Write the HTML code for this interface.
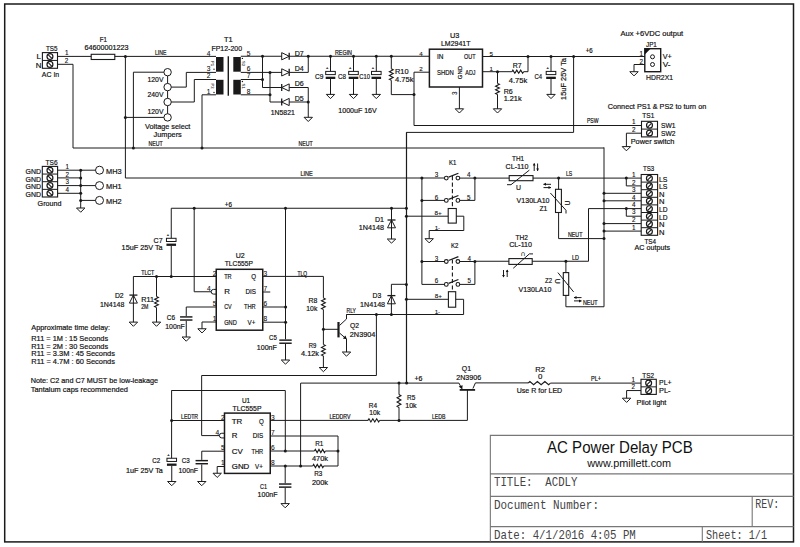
<!DOCTYPE html>
<html><head><meta charset="utf-8"><style>
html,body{margin:0;padding:0;background:#fff;width:800px;height:547px;overflow:hidden}
svg{display:block}
</style></head><body>
<svg width="800" height="547" viewBox="0 0 800 547">
<rect width="800" height="547" fill="#fff"/>
<rect x="4.7" y="4.0" width="788.8" height="537.9" fill="none" stroke="#1a1a1a" stroke-width="1.5"/>
<rect x="42.4" y="52.6" width="15.1" height="15.7" fill="none" stroke="#1a1a1a" stroke-width="1.1"/>
<path d="M42.40,60.45 L57.50,60.45" fill="none" stroke="#1a1a1a" stroke-width="1.0"/>
<circle cx="49.949999999999996" cy="56.525" r="2.95" fill="none" stroke="#1a1a1a" stroke-width="1.2"/>
<path d="M48.05,54.62 L51.85,58.42" fill="none" stroke="#1a1a1a" stroke-width="1.1"/>
<circle cx="49.949999999999996" cy="64.375" r="2.95" fill="none" stroke="#1a1a1a" stroke-width="1.2"/>
<path d="M48.05,62.48 L51.85,66.28" fill="none" stroke="#1a1a1a" stroke-width="1.1"/>
<text x="46" y="51.3" font-size="7.9" text-anchor="start" fill="#111" stroke="#111" stroke-width="0.2" font-family='"Liberation Sans", sans-serif' textLength="11.50" lengthAdjust="spacingAndGlyphs" xml:space="preserve">TS5</text>
<text x="36.4" y="58.6" font-size="7.9" text-anchor="start" fill="#111" stroke="#111" stroke-width="0.2" font-family='"Liberation Sans", sans-serif' xml:space="preserve">L</text>
<text x="35.8" y="68" font-size="7.9" text-anchor="start" fill="#111" stroke="#111" stroke-width="0.2" font-family='"Liberation Sans", sans-serif' xml:space="preserve">N</text>
<text x="65.0" y="55.4" font-size="6.3" text-anchor="start" fill="#111" stroke="#111" stroke-width="0.12" font-family='"Liberation Sans", sans-serif' xml:space="preserve">1</text>
<text x="64.8" y="63.3" font-size="6.3" text-anchor="start" fill="#111" stroke="#111" stroke-width="0.12" font-family='"Liberation Sans", sans-serif' xml:space="preserve">2</text>
<text x="41.8" y="77.4" font-size="7.9" text-anchor="start" fill="#111" stroke="#111" stroke-width="0.2" font-family='"Liberation Sans", sans-serif' textLength="17.40" lengthAdjust="spacingAndGlyphs" xml:space="preserve">AC In</text>
<path d="M57.50,56.40 L91.20,56.40" fill="none" stroke="#1a1a1a" stroke-width="1.0"/>
<rect x="91.2" y="54.3" width="23.6" height="5.2" fill="none" stroke="#1a1a1a" stroke-width="1.1"/>
<path d="M114.80,56.40 L216.00,56.40" fill="none" stroke="#1a1a1a" stroke-width="1.0"/>
<circle cx="125.4" cy="56.4" r="1.5" fill="#1a1a1a"/>
<text x="99.8" y="41.5" font-size="7.9" text-anchor="start" fill="#111" stroke="#111" stroke-width="0.2" font-family='"Liberation Sans", sans-serif' textLength="7.20" lengthAdjust="spacingAndGlyphs" xml:space="preserve">F1</text>
<text x="84.4" y="50.2" font-size="7.9" text-anchor="start" fill="#111" stroke="#111" stroke-width="0.2" font-family='"Liberation Sans", sans-serif' textLength="44.20" lengthAdjust="spacingAndGlyphs" xml:space="preserve">64600001223</text>
<text x="155" y="55" font-size="6.4" text-anchor="start" fill="#111" stroke="#111" stroke-width="0.2" font-family='"Liberation Sans", sans-serif' textLength="11.50" lengthAdjust="spacingAndGlyphs" xml:space="preserve">LINE</text>
<path d="M57.50,64.30 L73.00,64.30 L73.00,148.00 L604.00,148.00" fill="none" stroke="#1a1a1a" stroke-width="1.0"/>
<path d="M125.40,56.40 L125.40,178.00 L444.45,178.00" fill="none" stroke="#1a1a1a" stroke-width="1.0"/>
<circle cx="167.6" cy="72.2" r="3.7" fill="none" stroke="#1a1a1a" stroke-width="1.0"/>
<circle cx="167.6" cy="87.1" r="3.7" fill="none" stroke="#1a1a1a" stroke-width="1.0"/>
<circle cx="167.6" cy="102" r="3.7" fill="none" stroke="#1a1a1a" stroke-width="1.0"/>
<circle cx="167.6" cy="117.4" r="3.7" fill="none" stroke="#1a1a1a" stroke-width="1.0"/>
<path d="M167.60,75.90 L167.60,83.40" fill="none" stroke="#1a1a1a" stroke-width="1.0"/>
<path d="M167.60,90.80 L167.60,98.30" fill="none" stroke="#1a1a1a" stroke-width="1.0"/>
<path d="M167.60,105.70 L167.60,113.70" fill="none" stroke="#1a1a1a" stroke-width="1.0"/>
<path d="M163.90,72.20 L133.40,72.20 L133.40,148.00" fill="none" stroke="#1a1a1a" stroke-width="1.0"/>
<circle cx="133.4" cy="148.0" r="1.5" fill="#1a1a1a"/>
<path d="M171.30,87.10 L186.30,87.10 L186.30,72.40 L216.00,72.40" fill="none" stroke="#1a1a1a" stroke-width="1.0"/>
<path d="M171.30,102.00 L194.30,102.00 L194.30,79.50 L216.00,79.50" fill="none" stroke="#1a1a1a" stroke-width="1.0"/>
<path d="M163.90,117.40 L125.40,117.40" fill="none" stroke="#1a1a1a" stroke-width="1.0"/>
<circle cx="125.4" cy="117.4" r="1.5" fill="#1a1a1a"/>
<path d="M216.00,94.80 L202.00,94.80 L202.00,148.00" fill="none" stroke="#1a1a1a" stroke-width="1.0"/>
<circle cx="202" cy="148.0" r="1.5" fill="#1a1a1a"/>
<text x="147.5" y="82" font-size="7.9" text-anchor="start" fill="#111" stroke="#111" stroke-width="0.2" font-family='"Liberation Sans", sans-serif' textLength="16.00" lengthAdjust="spacingAndGlyphs" xml:space="preserve">120V</text>
<text x="147.5" y="97.1" font-size="7.9" text-anchor="start" fill="#111" stroke="#111" stroke-width="0.2" font-family='"Liberation Sans", sans-serif' textLength="16.00" lengthAdjust="spacingAndGlyphs" xml:space="preserve">240V</text>
<text x="147.5" y="114.4" font-size="7.9" text-anchor="start" fill="#111" stroke="#111" stroke-width="0.2" font-family='"Liberation Sans", sans-serif' textLength="16.00" lengthAdjust="spacingAndGlyphs" xml:space="preserve">120V</text>
<text x="145" y="129" font-size="7.9" text-anchor="start" fill="#111" stroke="#111" stroke-width="0.2" font-family='"Liberation Sans", sans-serif' textLength="45.40" lengthAdjust="spacingAndGlyphs" xml:space="preserve">Voltage select</text>
<text x="153.6" y="137" font-size="7.9" text-anchor="start" fill="#111" stroke="#111" stroke-width="0.2" font-family='"Liberation Sans", sans-serif' textLength="28.20" lengthAdjust="spacingAndGlyphs" xml:space="preserve">Jumpers</text>
<text x="224" y="42" font-size="7.9" text-anchor="start" fill="#111" stroke="#111" stroke-width="0.2" font-family='"Liberation Sans", sans-serif' textLength="8.60" lengthAdjust="spacingAndGlyphs" xml:space="preserve">T1</text>
<text x="211.5" y="51" font-size="7.9" text-anchor="start" fill="#111" stroke="#111" stroke-width="0.2" font-family='"Liberation Sans", sans-serif' textLength="30.50" lengthAdjust="spacingAndGlyphs" xml:space="preserve">FP12-200</text>
<rect x="216" y="57" width="7.5" height="14.7" fill="#1a1a1a"/>
<rect x="216" y="79.8" width="7.5" height="14.7" fill="#1a1a1a"/>
<rect x="233.3" y="57" width="7.5" height="14.7" fill="#1a1a1a"/>
<rect x="233.3" y="79.8" width="7.5" height="14.7" fill="#1a1a1a"/>
<path d="M228.30,56.20 L228.30,95.70" fill="none" stroke="#1a1a1a" stroke-width="1.4"/>
<text x="206.8" y="55.8" font-size="6.6" text-anchor="start" fill="#111" stroke="#111" stroke-width="0.1" font-family='"Liberation Sans", sans-serif' xml:space="preserve">4</text>
<text x="206.8" y="70.5" font-size="6.6" text-anchor="start" fill="#111" stroke="#111" stroke-width="0.1" font-family='"Liberation Sans", sans-serif' xml:space="preserve">3</text>
<text x="206.8" y="78.3" font-size="6.6" text-anchor="start" fill="#111" stroke="#111" stroke-width="0.1" font-family='"Liberation Sans", sans-serif' xml:space="preserve">2</text>
<text x="206.8" y="94.2" font-size="6.6" text-anchor="start" fill="#111" stroke="#111" stroke-width="0.1" font-family='"Liberation Sans", sans-serif' xml:space="preserve">1</text>
<text x="246.75" y="55.8" font-size="6.6" text-anchor="start" fill="#111" stroke="#111" stroke-width="0.1" font-family='"Liberation Sans", sans-serif' xml:space="preserve">5</text>
<text x="246.75" y="70.5" font-size="6.6" text-anchor="start" fill="#111" stroke="#111" stroke-width="0.1" font-family='"Liberation Sans", sans-serif' xml:space="preserve">6</text>
<text x="246.75" y="78.3" font-size="6.6" text-anchor="start" fill="#111" stroke="#111" stroke-width="0.1" font-family='"Liberation Sans", sans-serif' xml:space="preserve">7</text>
<text x="246.75" y="94.2" font-size="6.6" text-anchor="start" fill="#111" stroke="#111" stroke-width="0.1" font-family='"Liberation Sans", sans-serif' xml:space="preserve">8</text>
<circle cx="214" cy="69.2" r="0.7" fill="#1a1a1a"/>
<circle cx="214" cy="92.5" r="0.7" fill="#1a1a1a"/>
<circle cx="242.4" cy="58.4" r="0.7" fill="#1a1a1a"/>
<circle cx="242.4" cy="81.5" r="0.7" fill="#1a1a1a"/>
<text x="211.0" y="63.5" font-size="4.2" text-anchor="middle" fill="#111" stroke="#111" stroke-width="0.05" font-family='"Liberation Sans", sans-serif' transform="rotate(90 211.0 63.5)" xml:space="preserve">P1</text>
<text x="211.0" y="86" font-size="4.2" text-anchor="middle" fill="#111" stroke="#111" stroke-width="0.05" font-family='"Liberation Sans", sans-serif' transform="rotate(90 211.0 86)" xml:space="preserve">P2</text>
<text x="242.3" y="63.5" font-size="4.2" text-anchor="middle" fill="#111" stroke="#111" stroke-width="0.05" font-family='"Liberation Sans", sans-serif' transform="rotate(90 242.3 63.5)" xml:space="preserve">S2</text>
<text x="242.3" y="86" font-size="4.2" text-anchor="middle" fill="#111" stroke="#111" stroke-width="0.05" font-family='"Liberation Sans", sans-serif' transform="rotate(90 242.3 86)" xml:space="preserve">S1</text>
<path d="M240.80,56.25 L281.70,56.25" fill="none" stroke="#1a1a1a" stroke-width="1.0"/>
<path d="M289.20,56.25 L429.40,56.25" fill="none" stroke="#1a1a1a" stroke-width="1.0"/>
<path d="M281.7,52.65 L289.2,56.25 L281.7,59.85 Z" fill="none" stroke="#1a1a1a" stroke-width="1.0"/>
<path d="M289.20,52.65 L289.20,59.85" fill="none" stroke="#1a1a1a" stroke-width="1.3"/>
<path d="M240.80,72.40 L281.70,72.40" fill="none" stroke="#1a1a1a" stroke-width="1.0"/>
<path d="M289.20,72.40 L308.25,72.40 L308.25,56.25" fill="none" stroke="#1a1a1a" stroke-width="1.0"/>
<path d="M281.7,68.80000000000001 L289.2,72.4 L281.7,76.0 Z" fill="none" stroke="#1a1a1a" stroke-width="1.0"/>
<path d="M289.20,68.80 L289.20,76.00" fill="none" stroke="#1a1a1a" stroke-width="1.3"/>
<path d="M240.80,79.50 L262.50,79.50" fill="none" stroke="#1a1a1a" stroke-width="1.0"/>
<path d="M262.50,56.25 L262.50,87.50 L281.70,87.50" fill="none" stroke="#1a1a1a" stroke-width="1.0"/>
<path d="M289.2,83.9 L281.7,87.5 L289.2,91.1 Z" fill="none" stroke="#1a1a1a" stroke-width="1.0"/>
<path d="M281.70,83.90 L281.70,91.10" fill="none" stroke="#1a1a1a" stroke-width="1.3"/>
<path d="M289.20,87.50 L308.25,87.50 L308.25,117.30" fill="none" stroke="#1a1a1a" stroke-width="1.0"/>
<path d="M240.80,94.80 L270.00,94.80" fill="none" stroke="#1a1a1a" stroke-width="1.0"/>
<path d="M270.00,72.40 L270.00,102.00 L281.70,102.00" fill="none" stroke="#1a1a1a" stroke-width="1.0"/>
<path d="M289.2,98.4 L281.7,102 L289.2,105.6 Z" fill="none" stroke="#1a1a1a" stroke-width="1.0"/>
<path d="M281.70,98.40 L281.70,105.60" fill="none" stroke="#1a1a1a" stroke-width="1.3"/>
<path d="M289.20,102.00 L308.25,102.00" fill="none" stroke="#1a1a1a" stroke-width="1.0"/>
<path d="M304.05,117.30 L312.45,117.30 L308.25,121.50 Z" fill="none" stroke="#1a1a1a" stroke-width="1.0"/>
<circle cx="262.5" cy="56.25" r="1.5" fill="#1a1a1a"/>
<circle cx="262.5" cy="79.5" r="1.5" fill="#1a1a1a"/>
<circle cx="270" cy="72.4" r="1.5" fill="#1a1a1a"/>
<circle cx="270" cy="94.8" r="1.5" fill="#1a1a1a"/>
<circle cx="308.25" cy="56.25" r="1.5" fill="#1a1a1a"/>
<circle cx="308.25" cy="102" r="1.5" fill="#1a1a1a"/>
<text x="294.75" y="56.25" font-size="7.9" text-anchor="start" fill="#111" stroke="#111" stroke-width="0.2" font-family='"Liberation Sans", sans-serif' textLength="9.00" lengthAdjust="spacingAndGlyphs" xml:space="preserve">D7</text>
<text x="294.75" y="71.25" font-size="7.9" text-anchor="start" fill="#111" stroke="#111" stroke-width="0.2" font-family='"Liberation Sans", sans-serif' textLength="9.00" lengthAdjust="spacingAndGlyphs" xml:space="preserve">D4</text>
<text x="294.75" y="86.25" font-size="7.9" text-anchor="start" fill="#111" stroke="#111" stroke-width="0.2" font-family='"Liberation Sans", sans-serif' textLength="9.00" lengthAdjust="spacingAndGlyphs" xml:space="preserve">D6</text>
<text x="294.75" y="101.25" font-size="7.9" text-anchor="start" fill="#111" stroke="#111" stroke-width="0.2" font-family='"Liberation Sans", sans-serif' textLength="9.00" lengthAdjust="spacingAndGlyphs" xml:space="preserve">D5</text>
<text x="270.75" y="114.75" font-size="7.9" text-anchor="start" fill="#111" stroke="#111" stroke-width="0.2" font-family='"Liberation Sans", sans-serif' textLength="24.00" lengthAdjust="spacingAndGlyphs" xml:space="preserve">1N5821</text>
<text x="335" y="55.1" font-size="6.4" text-anchor="start" fill="#111" stroke="#111" stroke-width="0.2" font-family='"Liberation Sans", sans-serif' textLength="17.00" lengthAdjust="spacingAndGlyphs" xml:space="preserve">REGIN</text>
<circle cx="330.5" cy="56.25" r="1.5" fill="#1a1a1a"/>
<path d="M330.50,56.25 L330.50,71.40" fill="none" stroke="#1a1a1a" stroke-width="1.0"/>
<rect x="325.7" y="71.4" width="9.6" height="3.2" fill="none" stroke="#1a1a1a" stroke-width="1.0"/>
<rect x="325.7" y="76.7" width="9.6" height="2.3" fill="#1a1a1a"/>
<text x="325.9" y="69.2" font-size="4" text-anchor="start" fill="#111" stroke="#111" stroke-width="0.2" font-family='"Liberation Sans", sans-serif' xml:space="preserve">+</text>
<path d="M330.50,79.00 L330.50,94.40" fill="none" stroke="#1a1a1a" stroke-width="1.0"/>
<path d="M326.30,94.40 L334.70,94.40 L330.50,98.60 Z" fill="none" stroke="#1a1a1a" stroke-width="1.0"/>
<text x="315" y="79" font-size="7.9" text-anchor="start" fill="#111" stroke="#111" stroke-width="0.2" font-family='"Liberation Sans", sans-serif' textLength="8.40" lengthAdjust="spacingAndGlyphs" xml:space="preserve">C9</text>
<circle cx="353.5" cy="56.25" r="1.5" fill="#1a1a1a"/>
<path d="M353.50,56.25 L353.50,71.40" fill="none" stroke="#1a1a1a" stroke-width="1.0"/>
<rect x="348.7" y="71.4" width="9.6" height="3.2" fill="none" stroke="#1a1a1a" stroke-width="1.0"/>
<rect x="348.7" y="76.7" width="9.6" height="2.3" fill="#1a1a1a"/>
<text x="348.9" y="69.2" font-size="4" text-anchor="start" fill="#111" stroke="#111" stroke-width="0.2" font-family='"Liberation Sans", sans-serif' xml:space="preserve">+</text>
<path d="M353.50,79.00 L353.50,94.40" fill="none" stroke="#1a1a1a" stroke-width="1.0"/>
<path d="M349.30,94.40 L357.70,94.40 L353.50,98.60 Z" fill="none" stroke="#1a1a1a" stroke-width="1.0"/>
<text x="338" y="79" font-size="7.9" text-anchor="start" fill="#111" stroke="#111" stroke-width="0.2" font-family='"Liberation Sans", sans-serif' textLength="8.00" lengthAdjust="spacingAndGlyphs" xml:space="preserve">C8</text>
<circle cx="376.3" cy="56.25" r="1.5" fill="#1a1a1a"/>
<path d="M376.30,56.25 L376.30,71.40" fill="none" stroke="#1a1a1a" stroke-width="1.0"/>
<rect x="371.5" y="71.4" width="9.6" height="3.2" fill="none" stroke="#1a1a1a" stroke-width="1.0"/>
<rect x="371.5" y="76.7" width="9.6" height="2.3" fill="#1a1a1a"/>
<text x="371.7" y="69.2" font-size="4" text-anchor="start" fill="#111" stroke="#111" stroke-width="0.2" font-family='"Liberation Sans", sans-serif' xml:space="preserve">+</text>
<path d="M376.30,79.00 L376.30,94.40" fill="none" stroke="#1a1a1a" stroke-width="1.0"/>
<path d="M372.10,94.40 L380.50,94.40 L376.30,98.60 Z" fill="none" stroke="#1a1a1a" stroke-width="1.0"/>
<text x="359.3" y="79" font-size="7.9" text-anchor="start" fill="#111" stroke="#111" stroke-width="0.2" font-family='"Liberation Sans", sans-serif' textLength="10.70" lengthAdjust="spacingAndGlyphs" xml:space="preserve">C10</text>
<text x="338.3" y="112.7" font-size="7.9" text-anchor="start" fill="#111" stroke="#111" stroke-width="0.2" font-family='"Liberation Sans", sans-serif' textLength="38.40" lengthAdjust="spacingAndGlyphs" xml:space="preserve">1000uF 16V</text>
<circle cx="391.3" cy="56.25" r="1.5" fill="#1a1a1a"/>
<path d="M391.30,56.25 L391.30,68.80" fill="none" stroke="#1a1a1a" stroke-width="1.0"/>
<path d="M391.30,68.80 L393.20,69.76 L389.40,71.67 L393.20,73.59 L389.40,75.51 L393.20,77.42 L389.40,79.34 L391.30,80.30" fill="none" stroke="#1a1a1a" stroke-width="1.1" stroke-linejoin="miter"/>
<path d="M391.30,80.30 L391.30,94.60 L414.00,94.60" fill="none" stroke="#1a1a1a" stroke-width="1.0"/>
<text x="395" y="74" font-size="7.9" text-anchor="start" fill="#111" stroke="#111" stroke-width="0.2" font-family='"Liberation Sans", sans-serif' textLength="13.60" lengthAdjust="spacingAndGlyphs" xml:space="preserve">R10</text>
<text x="395" y="81.6" font-size="7.9" text-anchor="start" fill="#111" stroke="#111" stroke-width="0.2" font-family='"Liberation Sans", sans-serif' textLength="18.50" lengthAdjust="spacingAndGlyphs" xml:space="preserve">4.75k</text>
<text x="450" y="38" font-size="7.9" text-anchor="start" fill="#111" stroke="#111" stroke-width="0.2" font-family='"Liberation Sans", sans-serif' textLength="9.40" lengthAdjust="spacingAndGlyphs" xml:space="preserve">U3</text>
<text x="441" y="46" font-size="7.9" text-anchor="start" fill="#111" stroke="#111" stroke-width="0.2" font-family='"Liberation Sans", sans-serif' textLength="29.40" lengthAdjust="spacingAndGlyphs" xml:space="preserve">LM2941T</text>
<rect x="429.4" y="49.2" width="53.1" height="37.8" fill="none" stroke="#1a1a1a" stroke-width="1.5"/>
<text x="419.2" y="55.6" font-size="6.2" text-anchor="start" fill="#111" stroke="#111" stroke-width="0.1" font-family='"Liberation Sans", sans-serif' xml:space="preserve">4</text>
<text x="419.2" y="70.9" font-size="6.2" text-anchor="start" fill="#111" stroke="#111" stroke-width="0.1" font-family='"Liberation Sans", sans-serif' xml:space="preserve">2</text>
<path d="M414.00,72.20 L429.40,72.20" fill="none" stroke="#1a1a1a" stroke-width="1.0"/>
<path d="M414.00,72.20 L414.00,125.50 L641.50,125.50" fill="none" stroke="#1a1a1a" stroke-width="1.0"/>
<circle cx="414" cy="94.6" r="1.5" fill="#1a1a1a"/>
<text x="437" y="59.4" font-size="7.9" text-anchor="start" fill="#111" stroke="#111" stroke-width="0.2" font-family='"Liberation Sans", sans-serif' textLength="6.50" lengthAdjust="spacingAndGlyphs" xml:space="preserve">IN</text>
<text x="464" y="59.4" font-size="7.9" text-anchor="start" fill="#111" stroke="#111" stroke-width="0.2" font-family='"Liberation Sans", sans-serif' textLength="11.50" lengthAdjust="spacingAndGlyphs" xml:space="preserve">OUT</text>
<text x="437" y="74.8" font-size="7.9" text-anchor="start" fill="#111" stroke="#111" stroke-width="0.2" font-family='"Liberation Sans", sans-serif' textLength="16.80" lengthAdjust="spacingAndGlyphs" xml:space="preserve">SHDN</text>
<text x="465.3" y="74.8" font-size="7.9" text-anchor="start" fill="#111" stroke="#111" stroke-width="0.2" font-family='"Liberation Sans", sans-serif' textLength="10.20" lengthAdjust="spacingAndGlyphs" xml:space="preserve">ADJ</text>
<text x="461.5" y="72.5" font-size="6" text-anchor="middle" fill="#111" stroke="#111" stroke-width="0.2" font-family='"Liberation Sans", sans-serif' transform="rotate(-90 461.5 72.5)" xml:space="preserve">GND</text>
<text x="457" y="95" font-size="6.3" text-anchor="start" fill="#111" stroke="#111" stroke-width="0.12" font-family='"Liberation Sans", sans-serif' transform="rotate(-90 457 95)" xml:space="preserve">3</text>
<path d="M459.40,87.00 L459.40,108.80" fill="none" stroke="#1a1a1a" stroke-width="1.0"/>
<path d="M455.20,108.80 L463.60,108.80 L459.40,113.00 Z" fill="none" stroke="#1a1a1a" stroke-width="1.0"/>
<path d="M482.50,56.50 L644.80,56.50" fill="none" stroke="#1a1a1a" stroke-width="1.0"/>
<text x="489.6" y="55.6" font-size="6.2" text-anchor="start" fill="#111" stroke="#111" stroke-width="0.1" font-family='"Liberation Sans", sans-serif' xml:space="preserve">5</text>
<text x="489.6" y="70.9" font-size="6.2" text-anchor="start" fill="#111" stroke="#111" stroke-width="0.1" font-family='"Liberation Sans", sans-serif' xml:space="preserve">1</text>
<path d="M482.50,71.70 L511.90,71.70" fill="none" stroke="#1a1a1a" stroke-width="1.0"/>
<path d="M511.90,71.70 L512.88,70.10 L514.83,73.30 L516.77,70.10 L518.72,73.30 L520.68,70.10 L522.62,73.30 L523.60,71.70" fill="none" stroke="#1a1a1a" stroke-width="1.1" stroke-linejoin="miter"/>
<path d="M523.60,71.70 L528.00,71.70 L528.00,56.50" fill="none" stroke="#1a1a1a" stroke-width="1.0"/>
<circle cx="528" cy="56.5" r="1.5" fill="#1a1a1a"/>
<circle cx="497.5" cy="71.7" r="1.5" fill="#1a1a1a"/>
<text x="512.7" y="68.0" font-size="7.9" text-anchor="start" fill="#111" stroke="#111" stroke-width="0.2" font-family='"Liberation Sans", sans-serif' textLength="8.90" lengthAdjust="spacingAndGlyphs" xml:space="preserve">R7</text>
<text x="508.8" y="82.5" font-size="7.9" text-anchor="start" fill="#111" stroke="#111" stroke-width="0.2" font-family='"Liberation Sans", sans-serif' textLength="18.50" lengthAdjust="spacingAndGlyphs" xml:space="preserve">4.75k</text>
<path d="M497.50,71.70 L497.50,83.40" fill="none" stroke="#1a1a1a" stroke-width="1.0"/>
<path d="M497.50,83.40 L499.40,84.32 L495.60,86.15 L499.40,87.98 L495.60,89.82 L499.40,91.65 L495.60,93.48 L497.50,94.40" fill="none" stroke="#1a1a1a" stroke-width="1.1" stroke-linejoin="miter"/>
<path d="M497.50,94.40 L497.50,108.80" fill="none" stroke="#1a1a1a" stroke-width="1.0"/>
<path d="M493.30,108.80 L501.70,108.80 L497.50,113.00 Z" fill="none" stroke="#1a1a1a" stroke-width="1.0"/>
<text x="503.7" y="93.5" font-size="7.9" text-anchor="start" fill="#111" stroke="#111" stroke-width="0.2" font-family='"Liberation Sans", sans-serif' textLength="9.00" lengthAdjust="spacingAndGlyphs" xml:space="preserve">R6</text>
<text x="503.7" y="101" font-size="7.9" text-anchor="start" fill="#111" stroke="#111" stroke-width="0.2" font-family='"Liberation Sans", sans-serif' textLength="17.90" lengthAdjust="spacingAndGlyphs" xml:space="preserve">1.21k</text>
<circle cx="551" cy="56.5" r="1.5" fill="#1a1a1a"/>
<path d="M551.00,56.50 L551.00,71.40" fill="none" stroke="#1a1a1a" stroke-width="1.0"/>
<rect x="546.2" y="71.4" width="9.6" height="3.2" fill="none" stroke="#1a1a1a" stroke-width="1.0"/>
<rect x="546.2" y="76.7" width="9.6" height="2.3" fill="#1a1a1a"/>
<text x="546.4" y="69.2" font-size="4" text-anchor="start" fill="#111" stroke="#111" stroke-width="0.2" font-family='"Liberation Sans", sans-serif' xml:space="preserve">+</text>
<path d="M551.00,79.00 L551.00,94.40" fill="none" stroke="#1a1a1a" stroke-width="1.0"/>
<path d="M546.80,94.40 L555.20,94.40 L551.00,98.60 Z" fill="none" stroke="#1a1a1a" stroke-width="1.0"/>
<text x="534.4" y="79" font-size="7.9" text-anchor="start" fill="#111" stroke="#111" stroke-width="0.2" font-family='"Liberation Sans", sans-serif' textLength="7.60" lengthAdjust="spacingAndGlyphs" xml:space="preserve">C4</text>
<text x="565.8" y="100" font-size="8" text-anchor="start" fill="#111" stroke="#111" stroke-width="0.2" font-family='"Liberation Sans", sans-serif' transform="rotate(-90 565.8 100)" textLength="42.00" lengthAdjust="spacingAndGlyphs" xml:space="preserve">15uF 25V Ta</text>
<text x="585.7" y="53" font-size="6.4" text-anchor="start" fill="#111" stroke="#111" stroke-width="0.2" font-family='"Liberation Sans", sans-serif' textLength="6.90" lengthAdjust="spacingAndGlyphs" xml:space="preserve">+6</text>
<circle cx="573.6" cy="56.5" r="1.5" fill="#1a1a1a"/>
<path d="M573.60,56.50 L573.60,132.40 L406.40,132.40 L406.40,383.00" fill="none" stroke="#1a1a1a" stroke-width="1.0"/>
<text x="587" y="123" font-size="6.4" text-anchor="start" fill="#111" stroke="#111" stroke-width="0.2" font-family='"Liberation Sans", sans-serif' textLength="11.50" lengthAdjust="spacingAndGlyphs" xml:space="preserve">PSW</text>
<text x="620.5" y="36.4" font-size="7.9" text-anchor="start" fill="#111" stroke="#111" stroke-width="0.2" font-family='"Liberation Sans", sans-serif' textLength="62.70" lengthAdjust="spacingAndGlyphs" xml:space="preserve">Aux +6VDC output</text>
<text x="646" y="47" font-size="7.9" text-anchor="start" fill="#111" stroke="#111" stroke-width="0.2" font-family='"Liberation Sans", sans-serif' textLength="10.80" lengthAdjust="spacingAndGlyphs" xml:space="preserve">JP1</text>
<rect x="644.8" y="48.7" width="15.9" height="23" fill="none" stroke="#1a1a1a" stroke-width="1.4"/>
<path d="M644.8,48.7 L650.5,48.7 L644.8,54.4 Z" fill="#111"/>
<circle cx="652.5" cy="56.8" r="2.0" fill="none" stroke="#1a1a1a" stroke-width="1.0"/>
<circle cx="652.5" cy="64.5" r="2.0" fill="none" stroke="#1a1a1a" stroke-width="1.0"/>
<text x="639.5" y="55.8" font-size="6.3" text-anchor="start" fill="#111" stroke="#111" stroke-width="0.12" font-family='"Liberation Sans", sans-serif' xml:space="preserve">1</text>
<text x="639.5" y="63.5" font-size="6.3" text-anchor="start" fill="#111" stroke="#111" stroke-width="0.12" font-family='"Liberation Sans", sans-serif' xml:space="preserve">2</text>
<path d="M644.80,64.50 L634.00,64.50 L634.00,71.70" fill="none" stroke="#1a1a1a" stroke-width="1.0"/>
<path d="M629.80,71.70 L638.20,71.70 L634.00,75.90 Z" fill="none" stroke="#1a1a1a" stroke-width="1.0"/>
<text x="662.7" y="59.4" font-size="7.9" text-anchor="start" fill="#111" stroke="#111" stroke-width="0.2" font-family='"Liberation Sans", sans-serif' textLength="9.00" lengthAdjust="spacingAndGlyphs" xml:space="preserve">V+</text>
<text x="662.7" y="67" font-size="7.9" text-anchor="start" fill="#111" stroke="#111" stroke-width="0.2" font-family='"Liberation Sans", sans-serif' textLength="7.80" lengthAdjust="spacingAndGlyphs" xml:space="preserve">V-</text>
<text x="646" y="80" font-size="7.9" text-anchor="start" fill="#111" stroke="#111" stroke-width="0.2" font-family='"Liberation Sans", sans-serif' textLength="27.00" lengthAdjust="spacingAndGlyphs" xml:space="preserve">HDR2X1</text>
<text x="607.7" y="108.8" font-size="7.9" text-anchor="start" fill="#111" stroke="#111" stroke-width="0.2" font-family='"Liberation Sans", sans-serif' textLength="98.60" lengthAdjust="spacingAndGlyphs" xml:space="preserve">Connect PS1 &amp; PS2 to turn on</text>
<text x="642.3" y="118.3" font-size="7.9" text-anchor="start" fill="#111" stroke="#111" stroke-width="0.2" font-family='"Liberation Sans", sans-serif' textLength="12.00" lengthAdjust="spacingAndGlyphs" xml:space="preserve">TS1</text>
<rect x="641.5" y="121.3" width="16" height="15.6" fill="none" stroke="#1a1a1a" stroke-width="1.1"/>
<path d="M641.50,129.10 L657.50,129.10" fill="none" stroke="#1a1a1a" stroke-width="1.0"/>
<circle cx="649.5" cy="125.2" r="2.95" fill="none" stroke="#1a1a1a" stroke-width="1.2"/>
<path d="M647.60,127.10 L651.40,123.30" fill="none" stroke="#1a1a1a" stroke-width="1.1"/>
<circle cx="649.5" cy="133.0" r="2.95" fill="none" stroke="#1a1a1a" stroke-width="1.2"/>
<path d="M647.60,134.90 L651.40,131.10" fill="none" stroke="#1a1a1a" stroke-width="1.1"/>
<text x="632" y="124" font-size="6.3" text-anchor="start" fill="#111" stroke="#111" stroke-width="0.12" font-family='"Liberation Sans", sans-serif' xml:space="preserve">1</text>
<text x="632" y="131.8" font-size="6.3" text-anchor="start" fill="#111" stroke="#111" stroke-width="0.12" font-family='"Liberation Sans", sans-serif' xml:space="preserve">2</text>
<path d="M641.50,133.20 L626.40,133.20 L626.40,146.60" fill="none" stroke="#1a1a1a" stroke-width="1.0"/>
<path d="M622.20,146.60 L630.60,146.60 L626.40,150.80 Z" fill="none" stroke="#1a1a1a" stroke-width="1.0"/>
<text x="661" y="128" font-size="7.9" text-anchor="start" fill="#111" stroke="#111" stroke-width="0.2" font-family='"Liberation Sans", sans-serif' textLength="14.50" lengthAdjust="spacingAndGlyphs" xml:space="preserve">SW1</text>
<text x="661" y="135.7" font-size="7.9" text-anchor="start" fill="#111" stroke="#111" stroke-width="0.2" font-family='"Liberation Sans", sans-serif' textLength="14.50" lengthAdjust="spacingAndGlyphs" xml:space="preserve">SW2</text>
<text x="630.7" y="144.3" font-size="7.9" text-anchor="start" fill="#111" stroke="#111" stroke-width="0.2" font-family='"Liberation Sans", sans-serif' textLength="43.60" lengthAdjust="spacingAndGlyphs" xml:space="preserve">Power switch</text>
<text x="148.5" y="146" font-size="6.4" text-anchor="start" fill="#111" stroke="#111" stroke-width="0.2" font-family='"Liberation Sans", sans-serif' textLength="14.10" lengthAdjust="spacingAndGlyphs" xml:space="preserve">NEUT</text>
<text x="298.6" y="146" font-size="6.4" text-anchor="start" fill="#111" stroke="#111" stroke-width="0.2" font-family='"Liberation Sans", sans-serif' textLength="14.10" lengthAdjust="spacingAndGlyphs" xml:space="preserve">NEUT</text>
<text x="300.4" y="176" font-size="6.4" text-anchor="start" fill="#111" stroke="#111" stroke-width="0.2" font-family='"Liberation Sans", sans-serif' textLength="12.30" lengthAdjust="spacingAndGlyphs" xml:space="preserve">LINE</text>
<text x="45.6" y="165.3" font-size="7.9" text-anchor="start" fill="#111" stroke="#111" stroke-width="0.2" font-family='"Liberation Sans", sans-serif' textLength="12.00" lengthAdjust="spacingAndGlyphs" xml:space="preserve">TS6</text>
<rect x="42.3" y="166.4" width="15.3" height="30.6" fill="none" stroke="#1a1a1a" stroke-width="1.1"/>
<path d="M42.30,174.05 L57.60,174.05" fill="none" stroke="#1a1a1a" stroke-width="1.0"/>
<path d="M42.30,181.70 L57.60,181.70" fill="none" stroke="#1a1a1a" stroke-width="1.0"/>
<path d="M42.30,189.35 L57.60,189.35" fill="none" stroke="#1a1a1a" stroke-width="1.0"/>
<circle cx="49.949999999999996" cy="170.225" r="2.95" fill="none" stroke="#1a1a1a" stroke-width="1.2"/>
<path d="M48.05,168.32 L51.85,172.12" fill="none" stroke="#1a1a1a" stroke-width="1.1"/>
<circle cx="49.949999999999996" cy="177.875" r="2.95" fill="none" stroke="#1a1a1a" stroke-width="1.2"/>
<path d="M48.05,175.97 L51.85,179.78" fill="none" stroke="#1a1a1a" stroke-width="1.1"/>
<circle cx="49.949999999999996" cy="185.525" r="2.95" fill="none" stroke="#1a1a1a" stroke-width="1.2"/>
<path d="M48.05,183.62 L51.85,187.43" fill="none" stroke="#1a1a1a" stroke-width="1.1"/>
<circle cx="49.949999999999996" cy="193.175" r="2.95" fill="none" stroke="#1a1a1a" stroke-width="1.2"/>
<path d="M48.05,191.28 L51.85,195.08" fill="none" stroke="#1a1a1a" stroke-width="1.1"/>
<text x="25.6" y="174.0" font-size="7.9" text-anchor="start" fill="#111" stroke="#111" stroke-width="0.2" font-family='"Liberation Sans", sans-serif' textLength="15.40" lengthAdjust="spacingAndGlyphs" xml:space="preserve">GND</text>
<text x="65.5" y="169.0" font-size="6.3" text-anchor="start" fill="#111" stroke="#111" stroke-width="0.12" font-family='"Liberation Sans", sans-serif' xml:space="preserve">1</text>
<path d="M57.60,170.20 L80.70,170.20" fill="none" stroke="#1a1a1a" stroke-width="1.0"/>
<circle cx="80.7" cy="170.2" r="1.5" fill="#1a1a1a"/>
<text x="25.6" y="181.70000000000002" font-size="7.9" text-anchor="start" fill="#111" stroke="#111" stroke-width="0.2" font-family='"Liberation Sans", sans-serif' textLength="15.40" lengthAdjust="spacingAndGlyphs" xml:space="preserve">GND</text>
<text x="65.5" y="176.70000000000002" font-size="6.3" text-anchor="start" fill="#111" stroke="#111" stroke-width="0.12" font-family='"Liberation Sans", sans-serif' xml:space="preserve">2</text>
<path d="M57.60,177.90 L80.70,177.90" fill="none" stroke="#1a1a1a" stroke-width="1.0"/>
<circle cx="80.7" cy="177.9" r="1.5" fill="#1a1a1a"/>
<text x="25.6" y="189.4" font-size="7.9" text-anchor="start" fill="#111" stroke="#111" stroke-width="0.2" font-family='"Liberation Sans", sans-serif' textLength="15.40" lengthAdjust="spacingAndGlyphs" xml:space="preserve">GND</text>
<text x="65.5" y="184.4" font-size="6.3" text-anchor="start" fill="#111" stroke="#111" stroke-width="0.12" font-family='"Liberation Sans", sans-serif' xml:space="preserve">3</text>
<path d="M57.60,185.60 L80.70,185.60" fill="none" stroke="#1a1a1a" stroke-width="1.0"/>
<circle cx="80.7" cy="185.6" r="1.5" fill="#1a1a1a"/>
<text x="25.6" y="197.10000000000002" font-size="7.9" text-anchor="start" fill="#111" stroke="#111" stroke-width="0.2" font-family='"Liberation Sans", sans-serif' textLength="15.40" lengthAdjust="spacingAndGlyphs" xml:space="preserve">GND</text>
<text x="65.5" y="192.10000000000002" font-size="6.3" text-anchor="start" fill="#111" stroke="#111" stroke-width="0.12" font-family='"Liberation Sans", sans-serif' xml:space="preserve">4</text>
<path d="M57.60,193.30 L80.70,193.30" fill="none" stroke="#1a1a1a" stroke-width="1.0"/>
<circle cx="80.7" cy="193.3" r="1.5" fill="#1a1a1a"/>
<path d="M80.70,170.20 L80.70,208.00" fill="none" stroke="#1a1a1a" stroke-width="1.0"/>
<path d="M76.50,208.00 L84.90,208.00 L80.70,212.20 Z" fill="none" stroke="#1a1a1a" stroke-width="1.0"/>
<circle cx="80.7" cy="200.4" r="1.5" fill="#1a1a1a"/>
<path d="M80.70,170.20 L95.50,170.20" fill="none" stroke="#1a1a1a" stroke-width="1.0"/>
<circle cx="99.5" cy="170.2" r="4.0" fill="none" stroke="#1a1a1a" stroke-width="1.0"/>
<text x="106" y="173.5" font-size="7.9" text-anchor="start" fill="#111" stroke="#111" stroke-width="0.2" font-family='"Liberation Sans", sans-serif' textLength="15.60" lengthAdjust="spacingAndGlyphs" xml:space="preserve">MH3</text>
<path d="M80.70,185.60 L95.50,185.60" fill="none" stroke="#1a1a1a" stroke-width="1.0"/>
<circle cx="99.5" cy="185.6" r="4.0" fill="none" stroke="#1a1a1a" stroke-width="1.0"/>
<text x="106" y="188.9" font-size="7.9" text-anchor="start" fill="#111" stroke="#111" stroke-width="0.2" font-family='"Liberation Sans", sans-serif' textLength="15.60" lengthAdjust="spacingAndGlyphs" xml:space="preserve">MH1</text>
<path d="M80.70,200.40 L95.50,200.40" fill="none" stroke="#1a1a1a" stroke-width="1.0"/>
<circle cx="99.5" cy="200.4" r="4.0" fill="none" stroke="#1a1a1a" stroke-width="1.0"/>
<text x="106" y="203.70000000000002" font-size="7.9" text-anchor="start" fill="#111" stroke="#111" stroke-width="0.2" font-family='"Liberation Sans", sans-serif' textLength="15.60" lengthAdjust="spacingAndGlyphs" xml:space="preserve">MH2</text>
<text x="37.6" y="206.3" font-size="7.9" text-anchor="start" fill="#111" stroke="#111" stroke-width="0.2" font-family='"Liberation Sans", sans-serif' textLength="23.90" lengthAdjust="spacingAndGlyphs" xml:space="preserve">Ground</text>
<path d="M171.25,208.25 L406.40,208.25" fill="none" stroke="#1a1a1a" stroke-width="1.0"/>
<text x="224.8" y="206.75" font-size="6.4" text-anchor="start" fill="#111" stroke="#111" stroke-width="0.2" font-family='"Liberation Sans", sans-serif' textLength="7.20" lengthAdjust="spacingAndGlyphs" xml:space="preserve">+6</text>
<circle cx="194.2" cy="208.25" r="1.5" fill="#1a1a1a"/>
<circle cx="285.5" cy="208.25" r="1.5" fill="#1a1a1a"/>
<circle cx="391.5" cy="208.25" r="1.5" fill="#1a1a1a"/>
<circle cx="406.4" cy="208.25" r="1.5" fill="#1a1a1a"/>
<path d="M171.25,208.25 L171.25,238.30" fill="none" stroke="#1a1a1a" stroke-width="1.0"/>
<rect x="166.45" y="238.3" width="9.6" height="3.2" fill="none" stroke="#1a1a1a" stroke-width="1.0"/>
<rect x="166.45" y="243.60000000000002" width="9.6" height="2.3" fill="#1a1a1a"/>
<text x="166.65" y="236.10000000000002" font-size="4" text-anchor="start" fill="#111" stroke="#111" stroke-width="0.2" font-family='"Liberation Sans", sans-serif' xml:space="preserve">+</text>
<path d="M171.25,245.90 L171.25,276.50" fill="none" stroke="#1a1a1a" stroke-width="1.0"/>
<circle cx="171.25" cy="276.5" r="1.5" fill="#1a1a1a"/>
<text x="153.6" y="242.7" font-size="7.9" text-anchor="start" fill="#111" stroke="#111" stroke-width="0.2" font-family='"Liberation Sans", sans-serif' textLength="9.00" lengthAdjust="spacingAndGlyphs" xml:space="preserve">C7</text>
<text x="121.6" y="250.4" font-size="7.9" text-anchor="start" fill="#111" stroke="#111" stroke-width="0.2" font-family='"Liberation Sans", sans-serif' textLength="41.00" lengthAdjust="spacingAndGlyphs" xml:space="preserve">15uF 25V Ta</text>
<path d="M391.50,208.25 L391.50,239.00" fill="none" stroke="#1a1a1a" stroke-width="1.0"/>
<path d="M387.5,227.8 L395.5,227.8 L391.5,220 Z" fill="none" stroke="#1a1a1a" stroke-width="1.0"/>
<path d="M387.50,220.00 L395.50,220.00" fill="none" stroke="#1a1a1a" stroke-width="1.3"/>
<path d="M387.30,239.00 L395.70,239.00 L391.50,243.20 Z" fill="none" stroke="#1a1a1a" stroke-width="1.0"/>
<text x="375" y="222" font-size="7.9" text-anchor="start" fill="#111" stroke="#111" stroke-width="0.2" font-family='"Liberation Sans", sans-serif' textLength="9.00" lengthAdjust="spacingAndGlyphs" xml:space="preserve">D1</text>
<text x="358.8" y="230.4" font-size="7.9" text-anchor="start" fill="#111" stroke="#111" stroke-width="0.2" font-family='"Liberation Sans", sans-serif' textLength="25.10" lengthAdjust="spacingAndGlyphs" xml:space="preserve">1N4148</text>
<text x="235.75" y="257.75" font-size="7.9" text-anchor="start" fill="#111" stroke="#111" stroke-width="0.2" font-family='"Liberation Sans", sans-serif' textLength="9.00" lengthAdjust="spacingAndGlyphs" xml:space="preserve">U2</text>
<text x="224.8" y="266" font-size="7.9" text-anchor="start" fill="#111" stroke="#111" stroke-width="0.2" font-family='"Liberation Sans", sans-serif' textLength="28.20" lengthAdjust="spacingAndGlyphs" xml:space="preserve">TLC555P</text>
<rect x="216.25" y="269.3" width="46.5" height="60.9" fill="none" stroke="#1a1a1a" stroke-width="1.5"/>
<path d="M133.40,276.50 L216.25,276.50" fill="none" stroke="#1a1a1a" stroke-width="1.0"/>
<text x="141.2" y="275" font-size="6.4" text-anchor="start" fill="#111" stroke="#111" stroke-width="0.2" font-family='"Liberation Sans", sans-serif' textLength="13.10" lengthAdjust="spacingAndGlyphs" xml:space="preserve">TLCT</text>
<path d="M194.20,208.25 L194.20,291.75 L211.15,291.75" fill="none" stroke="#1a1a1a" stroke-width="1.0"/>
<path d="M216.25,289.4 L213.5,289.4 A2.35,2.35 0 0 0 213.5,294.1 L216.25,294.1" fill="none" stroke="#1a1a1a" stroke-width="1"/>
<path d="M186.25,307.00 L216.25,307.00" fill="none" stroke="#1a1a1a" stroke-width="1.0"/>
<path d="M186.25,307.00 L186.25,316.20" fill="none" stroke="#1a1a1a" stroke-width="1.0"/>
<rect x="180.05" y="316.2" width="12.4" height="1.45" fill="#1a1a1a"/>
<rect x="180.05" y="319.3" width="12.4" height="1.45" fill="#1a1a1a"/>
<path d="M186.25,320.75 L186.25,337.00" fill="none" stroke="#1a1a1a" stroke-width="1.0"/>
<path d="M182.05,337.00 L190.45,337.00 L186.25,341.20 Z" fill="none" stroke="#1a1a1a" stroke-width="1.0"/>
<text x="166.75" y="319.75" font-size="7.9" text-anchor="start" fill="#111" stroke="#111" stroke-width="0.2" font-family='"Liberation Sans", sans-serif' textLength="8.25" lengthAdjust="spacingAndGlyphs" xml:space="preserve">C6</text>
<text x="165.25" y="328.75" font-size="7.9" text-anchor="start" fill="#111" stroke="#111" stroke-width="0.2" font-family='"Liberation Sans", sans-serif' textLength="19.50" lengthAdjust="spacingAndGlyphs" xml:space="preserve">100nF</text>
<path d="M216.25,322.00 L202.00,322.00 L202.00,328.75" fill="none" stroke="#1a1a1a" stroke-width="1.0"/>
<path d="M197.80,328.75 L206.20,328.75 L202.00,332.95 Z" fill="none" stroke="#1a1a1a" stroke-width="1.0"/>
<text x="224.2" y="279.25" font-size="7.9" text-anchor="start" fill="#111" stroke="#111" stroke-width="0.2" font-family='"Liberation Sans", sans-serif' textLength="7.50" lengthAdjust="spacingAndGlyphs" xml:space="preserve">TR</text>
<text x="224.2" y="294.25" font-size="7.9" text-anchor="start" fill="#111" stroke="#111" stroke-width="0.2" font-family='"Liberation Sans", sans-serif' xml:space="preserve">R</text>
<text x="224.2" y="309.25" font-size="7.9" text-anchor="start" fill="#111" stroke="#111" stroke-width="0.2" font-family='"Liberation Sans", sans-serif' textLength="7.50" lengthAdjust="spacingAndGlyphs" xml:space="preserve">CV</text>
<text x="224.2" y="325" font-size="7.9" text-anchor="start" fill="#111" stroke="#111" stroke-width="0.2" font-family='"Liberation Sans", sans-serif' textLength="12.60" lengthAdjust="spacingAndGlyphs" xml:space="preserve">GND</text>
<text x="251.2" y="279.25" font-size="7.9" text-anchor="start" fill="#111" stroke="#111" stroke-width="0.2" font-family='"Liberation Sans", sans-serif' textLength="4.80" lengthAdjust="spacingAndGlyphs" xml:space="preserve">Q</text>
<text x="245.5" y="294.25" font-size="7.9" text-anchor="start" fill="#111" stroke="#111" stroke-width="0.2" font-family='"Liberation Sans", sans-serif' textLength="10.50" lengthAdjust="spacingAndGlyphs" xml:space="preserve">DIS</text>
<text x="244" y="309.25" font-size="7.9" text-anchor="start" fill="#111" stroke="#111" stroke-width="0.2" font-family='"Liberation Sans", sans-serif' textLength="11.70" lengthAdjust="spacingAndGlyphs" xml:space="preserve">THR</text>
<text x="247.5" y="325" font-size="7.9" text-anchor="start" fill="#111" stroke="#111" stroke-width="0.2" font-family='"Liberation Sans", sans-serif' textLength="7.75" lengthAdjust="spacingAndGlyphs" xml:space="preserve">V+</text>
<text x="212.8" y="276.3" font-size="6.6" text-anchor="start" fill="#111" stroke="#111" stroke-width="0.1" font-family='"Liberation Sans", sans-serif' xml:space="preserve">2</text>
<text x="207.1" y="290.9" font-size="6.6" text-anchor="start" fill="#111" stroke="#111" stroke-width="0.1" font-family='"Liberation Sans", sans-serif' xml:space="preserve">4</text>
<text x="212.8" y="306" font-size="6.6" text-anchor="start" fill="#111" stroke="#111" stroke-width="0.1" font-family='"Liberation Sans", sans-serif' xml:space="preserve">5</text>
<text x="212.8" y="320.9" font-size="6.6" text-anchor="start" fill="#111" stroke="#111" stroke-width="0.1" font-family='"Liberation Sans", sans-serif' xml:space="preserve">1</text>
<text x="263.6" y="276.3" font-size="6.6" text-anchor="start" fill="#111" stroke="#111" stroke-width="0.1" font-family='"Liberation Sans", sans-serif' xml:space="preserve">3</text>
<text x="263.6" y="290.9" font-size="6.6" text-anchor="start" fill="#111" stroke="#111" stroke-width="0.1" font-family='"Liberation Sans", sans-serif' xml:space="preserve">7</text>
<text x="263.6" y="306" font-size="6.6" text-anchor="start" fill="#111" stroke="#111" stroke-width="0.1" font-family='"Liberation Sans", sans-serif' xml:space="preserve">6</text>
<text x="263.6" y="320.9" font-size="6.6" text-anchor="start" fill="#111" stroke="#111" stroke-width="0.1" font-family='"Liberation Sans", sans-serif' xml:space="preserve">8</text>
<path d="M262.75,276.40 L323.40,276.40 L323.40,297.90" fill="none" stroke="#1a1a1a" stroke-width="1.0"/>
<path d="M262.75,292.00 L270.25,292.00" fill="none" stroke="#1a1a1a" stroke-width="1.0"/>
<path d="M262.75,307.00 L285.60,307.00" fill="none" stroke="#1a1a1a" stroke-width="1.0"/>
<path d="M262.75,322.20 L285.60,322.20" fill="none" stroke="#1a1a1a" stroke-width="1.0"/>
<circle cx="285.6" cy="307" r="1.5" fill="#1a1a1a"/>
<circle cx="285.6" cy="322.2" r="1.5" fill="#1a1a1a"/>
<path d="M285.50,208.25 L285.50,339.40" fill="none" stroke="#1a1a1a" stroke-width="1.0"/>
<rect x="279.3" y="339.4" width="12.4" height="1.45" fill="#1a1a1a"/>
<rect x="279.3" y="342.5" width="12.4" height="1.45" fill="#1a1a1a"/>
<path d="M285.50,343.95 L285.50,360.00" fill="none" stroke="#1a1a1a" stroke-width="1.0"/>
<path d="M281.30,360.00 L289.70,360.00 L285.50,364.20 Z" fill="none" stroke="#1a1a1a" stroke-width="1.0"/>
<text x="269" y="340" font-size="7.9" text-anchor="start" fill="#111" stroke="#111" stroke-width="0.2" font-family='"Liberation Sans", sans-serif' textLength="7.80" lengthAdjust="spacingAndGlyphs" xml:space="preserve">C5</text>
<text x="256.8" y="350" font-size="7.9" text-anchor="start" fill="#111" stroke="#111" stroke-width="0.2" font-family='"Liberation Sans", sans-serif' textLength="20.00" lengthAdjust="spacingAndGlyphs" xml:space="preserve">100nF</text>
<text x="297.5" y="276" font-size="6.4" text-anchor="start" fill="#111" stroke="#111" stroke-width="0.2" font-family='"Liberation Sans", sans-serif' textLength="9.50" lengthAdjust="spacingAndGlyphs" xml:space="preserve">TLQ</text>
<path d="M133.40,276.50 L133.40,322.10" fill="none" stroke="#1a1a1a" stroke-width="1.0"/>
<path d="M129.4,303.1 L137.4,303.1 L133.4,295.1 Z" fill="none" stroke="#1a1a1a" stroke-width="1.0"/>
<path d="M129.40,295.10 L137.40,295.10" fill="none" stroke="#1a1a1a" stroke-width="1.3"/>
<path d="M129.20,322.10 L137.60,322.10 L133.40,326.30 Z" fill="none" stroke="#1a1a1a" stroke-width="1.0"/>
<circle cx="156.5" cy="276.5" r="1.5" fill="#1a1a1a"/>
<path d="M156.50,276.50 L156.50,296.50" fill="none" stroke="#1a1a1a" stroke-width="1.0"/>
<path d="M156.50,296.50 L158.40,297.42 L154.60,299.25 L158.40,301.08 L154.60,302.92 L158.40,304.75 L154.60,306.58 L156.50,307.50" fill="none" stroke="#1a1a1a" stroke-width="1.1" stroke-linejoin="miter"/>
<path d="M156.50,307.50 L156.50,322.10" fill="none" stroke="#1a1a1a" stroke-width="1.0"/>
<path d="M152.30,322.10 L160.70,322.10 L156.50,326.30 Z" fill="none" stroke="#1a1a1a" stroke-width="1.0"/>
<text x="114.9" y="298.3" font-size="7.9" text-anchor="start" fill="#111" stroke="#111" stroke-width="0.2" font-family='"Liberation Sans", sans-serif' textLength="8.70" lengthAdjust="spacingAndGlyphs" xml:space="preserve">D2</text>
<text x="99.9" y="307" font-size="7.9" text-anchor="start" fill="#111" stroke="#111" stroke-width="0.2" font-family='"Liberation Sans", sans-serif' textLength="24.50" lengthAdjust="spacingAndGlyphs" xml:space="preserve">1N4148</text>
<text x="141.2" y="301.7" font-size="7.9" text-anchor="start" fill="#111" stroke="#111" stroke-width="0.2" font-family='"Liberation Sans", sans-serif' textLength="12.80" lengthAdjust="spacingAndGlyphs" xml:space="preserve">R11</text>
<text x="141.2" y="309" font-size="7.9" text-anchor="start" fill="#111" stroke="#111" stroke-width="0.2" font-family='"Liberation Sans", sans-serif' textLength="7.30" lengthAdjust="spacingAndGlyphs" xml:space="preserve">2M</text>
<path d="M323.40,297.90 L325.30,298.88 L321.50,300.82 L325.30,302.78 L321.50,304.73 L325.30,306.68 L321.50,308.62 L323.40,309.60" fill="none" stroke="#1a1a1a" stroke-width="1.1" stroke-linejoin="miter"/>
<path d="M323.40,309.60 L323.40,344.50" fill="none" stroke="#1a1a1a" stroke-width="1.0"/>
<circle cx="323.4" cy="329.3" r="1.5" fill="#1a1a1a"/>
<path d="M323.40,344.50 L325.30,345.46 L321.50,347.38 L325.30,349.29 L321.50,351.21 L325.30,353.12 L321.50,355.04 L323.40,356.00" fill="none" stroke="#1a1a1a" stroke-width="1.1" stroke-linejoin="miter"/>
<path d="M323.40,356.00 L323.40,367.50" fill="none" stroke="#1a1a1a" stroke-width="1.0"/>
<path d="M319.20,367.50 L327.60,367.50 L323.40,371.70 Z" fill="none" stroke="#1a1a1a" stroke-width="1.0"/>
<text x="308.5" y="303.3" font-size="7.9" text-anchor="start" fill="#111" stroke="#111" stroke-width="0.2" font-family='"Liberation Sans", sans-serif' textLength="8.80" lengthAdjust="spacingAndGlyphs" xml:space="preserve">R8</text>
<text x="306.3" y="310.6" font-size="7.9" text-anchor="start" fill="#111" stroke="#111" stroke-width="0.2" font-family='"Liberation Sans", sans-serif' textLength="11.00" lengthAdjust="spacingAndGlyphs" xml:space="preserve">10k</text>
<text x="308.8" y="348" font-size="7.9" text-anchor="start" fill="#111" stroke="#111" stroke-width="0.2" font-family='"Liberation Sans", sans-serif' textLength="7.60" lengthAdjust="spacingAndGlyphs" xml:space="preserve">R9</text>
<text x="301" y="356" font-size="7.9" text-anchor="start" fill="#111" stroke="#111" stroke-width="0.2" font-family='"Liberation Sans", sans-serif' textLength="18.00" lengthAdjust="spacingAndGlyphs" xml:space="preserve">4.12k</text>
<path d="M323.40,329.30 L338.00,329.30" fill="none" stroke="#1a1a1a" stroke-width="1.0"/>
<path d="M338.50,322.00 L338.50,337.40" fill="none" stroke="#1a1a1a" stroke-width="2.2"/>
<path d="M339.50,325.50 L346.50,319.00 L346.50,314.50 L400.00,314.50" fill="none" stroke="#1a1a1a" stroke-width="1.0"/>
<path d="M339.50,333.00 L346.50,339.00 L346.50,352.00" fill="none" stroke="#1a1a1a" stroke-width="1.0"/>
<path d="M342.30,352.00 L350.70,352.00 L346.50,356.20 Z" fill="none" stroke="#1a1a1a" stroke-width="1.0"/>
<path d="M346.8,339.3 L342.8,338.5 L345.5,335.5 Z" fill="#111"/>
<text x="346.5" y="313.2" font-size="6.4" text-anchor="start" fill="#111" stroke="#111" stroke-width="0.2" font-family='"Liberation Sans", sans-serif' textLength="9.50" lengthAdjust="spacingAndGlyphs" xml:space="preserve">RLY</text>
<text x="350" y="327.9" font-size="7.9" text-anchor="start" fill="#111" stroke="#111" stroke-width="0.2" font-family='"Liberation Sans", sans-serif' textLength="9.00" lengthAdjust="spacingAndGlyphs" xml:space="preserve">Q2</text>
<text x="349.8" y="336.8" font-size="7.9" text-anchor="start" fill="#111" stroke="#111" stroke-width="0.2" font-family='"Liberation Sans", sans-serif' textLength="25.60" lengthAdjust="spacingAndGlyphs" xml:space="preserve">2N3904</text>
<text x="449" y="165.4" font-size="7.9" text-anchor="start" fill="#111" stroke="#111" stroke-width="0.2" font-family='"Liberation Sans", sans-serif' textLength="7.30" lengthAdjust="spacingAndGlyphs" xml:space="preserve">K1</text>
<circle cx="421.9" cy="178.1" r="1.5" fill="#1a1a1a"/>
<circle cx="421.9" cy="200.4" r="1.5" fill="#1a1a1a"/>
<circle cx="421.9" cy="261.5" r="1.5" fill="#1a1a1a"/>
<path d="M421.90,178.10 L421.90,284.40" fill="none" stroke="#1a1a1a" stroke-width="1.0"/>
<circle cx="446.3" cy="178.1" r="1.85" fill="none" stroke="#1a1a1a" stroke-width="1.1"/>
<circle cx="457.9" cy="178.1" r="1.85" fill="none" stroke="#1a1a1a" stroke-width="1.1"/>
<path d="M448.60,177.10 L458.40,173.20" fill="none" stroke="#1a1a1a" stroke-width="1.2"/>
<path d="M459.75,178.10 L474.90,178.10 L474.90,200.40 L459.75,200.40" fill="none" stroke="#1a1a1a" stroke-width="1.0"/>
<circle cx="474.9" cy="178.1" r="1.5" fill="#1a1a1a"/>
<path d="M421.90,200.40 L444.45,200.40" fill="none" stroke="#1a1a1a" stroke-width="1.0"/>
<circle cx="446.3" cy="200.4" r="1.85" fill="none" stroke="#1a1a1a" stroke-width="1.1"/>
<circle cx="457.9" cy="200.4" r="1.85" fill="none" stroke="#1a1a1a" stroke-width="1.1"/>
<path d="M448.60,199.40 L458.40,195.50" fill="none" stroke="#1a1a1a" stroke-width="1.2"/>
<path d="M452.4,176.1 L452.4,208.5" fill="none" stroke="#1a1a1a" stroke-width="1.1" stroke-dasharray="4.1,2.4"/>
<rect x="448.2" y="208.5" width="8.1" height="14.6" fill="none" stroke="#1a1a1a" stroke-width="1.1"/>
<text x="434.8" y="177" font-size="6.3" text-anchor="start" fill="#111" stroke="#111" stroke-width="0.12" font-family='"Liberation Sans", sans-serif' xml:space="preserve">3</text>
<text x="467" y="177" font-size="6.3" text-anchor="start" fill="#111" stroke="#111" stroke-width="0.12" font-family='"Liberation Sans", sans-serif' xml:space="preserve">4</text>
<text x="434.8" y="199.7" font-size="6.3" text-anchor="start" fill="#111" stroke="#111" stroke-width="0.12" font-family='"Liberation Sans", sans-serif' xml:space="preserve">6</text>
<text x="467" y="199.7" font-size="6.3" text-anchor="start" fill="#111" stroke="#111" stroke-width="0.12" font-family='"Liberation Sans", sans-serif' xml:space="preserve">5</text>
<path d="M406.60,216.20 L448.20,216.20" fill="none" stroke="#1a1a1a" stroke-width="1.0"/>
<path d="M456.30,216.20 L463.80,216.20 L463.80,230.50 L429.20,230.50 L429.20,238.70" fill="none" stroke="#1a1a1a" stroke-width="1.0"/>
<path d="M425.00,238.70 L433.40,238.70 L429.20,242.90 Z" fill="none" stroke="#1a1a1a" stroke-width="1.0"/>
<text x="434.4" y="215" font-size="6" text-anchor="start" fill="#111" stroke="#111" stroke-width="0.1" font-family='"Liberation Sans", sans-serif' textLength="7.30" lengthAdjust="spacingAndGlyphs" xml:space="preserve">8+</text>
<text x="434.7" y="230" font-size="6" text-anchor="start" fill="#111" stroke="#111" stroke-width="0.1" font-family='"Liberation Sans", sans-serif' textLength="5.50" lengthAdjust="spacingAndGlyphs" xml:space="preserve">1-</text>
<circle cx="406.4" cy="216.2" r="1.5" fill="#1a1a1a"/>
<path d="M474.90,178.10 L509.20,178.10" fill="none" stroke="#1a1a1a" stroke-width="1.0"/>
<rect x="509.2" y="175.6" width="23.8" height="5.1" fill="none" stroke="#1a1a1a" stroke-width="1.1"/>
<path d="M533.00,178.10 L604.00,178.10" fill="none" stroke="#1a1a1a" stroke-width="1.0"/>
<path d="M507.00,184.70 L511.00,184.70 L529.40,170.10" fill="none" stroke="#1a1a1a" stroke-width="1.0"/>
<text x="515.9" y="189.8" font-size="7.8" text-anchor="start" fill="#111" stroke="#111" stroke-width="0.2" font-family='"Liberation Sans", sans-serif' textLength="5.00" lengthAdjust="spacingAndGlyphs" xml:space="preserve">U</text>
<text x="512" y="161.3" font-size="7.9" text-anchor="start" fill="#111" stroke="#111" stroke-width="0.2" font-family='"Liberation Sans", sans-serif' textLength="12.00" lengthAdjust="spacingAndGlyphs" xml:space="preserve">TH1</text>
<text x="505.6" y="169.2" font-size="7.9" text-anchor="start" fill="#111" stroke="#111" stroke-width="0.2" font-family='"Liberation Sans", sans-serif' textLength="22.80" lengthAdjust="spacingAndGlyphs" xml:space="preserve">CL-110</text>
<path d="M534.20,163.50 L534.20,171.00" fill="none" stroke="#1a1a1a" stroke-width="1.0"/>
<path d="M537.60,163.50 L537.60,171.00" fill="none" stroke="#1a1a1a" stroke-width="1.0"/>
<path d="M532.8,165.5 L534.2,163 L535.6,165.5 Z M536.2,168.5 L537.6,171 L539,168.5 Z" fill="#111"/>
<circle cx="558.6" cy="178.1" r="1.5" fill="#1a1a1a"/>
<text x="566" y="175.6" font-size="6.4" text-anchor="start" fill="#111" stroke="#111" stroke-width="0.2" font-family='"Liberation Sans", sans-serif' textLength="6.30" lengthAdjust="spacingAndGlyphs" xml:space="preserve">LS</text>
<path d="M558.60,178.10 L558.60,189.30" fill="none" stroke="#1a1a1a" stroke-width="1.0"/>
<rect x="555.5" y="189.3" width="5.9" height="23.2" fill="none" stroke="#1a1a1a" stroke-width="1.1"/>
<path d="M558.60,212.50 L558.60,238.60 L604.00,238.60" fill="none" stroke="#1a1a1a" stroke-width="1.0"/>
<path d="M550.40,193.00 L566.00,210.30 L566.00,213.50" fill="none" stroke="#1a1a1a" stroke-width="1.0"/>
<text x="570.3" y="205.5" font-size="7.8" text-anchor="start" fill="#111" stroke="#111" stroke-width="0.2" font-family='"Liberation Sans", sans-serif' transform="rotate(-90 570.3 205.5)" textLength="5.00" lengthAdjust="spacingAndGlyphs" xml:space="preserve">U</text>
<path d="M543.50,184.30 L551.00,184.30" fill="none" stroke="#1a1a1a" stroke-width="1.0"/>
<path d="M543.50,187.60 L551.00,187.60" fill="none" stroke="#1a1a1a" stroke-width="1.0"/>
<path d="M543.3,184.3 L546,182.8 L546,185.8 Z M551.2,187.6 L548.5,186.1 L548.5,189.1 Z" fill="#111"/>
<text x="516.6" y="203" font-size="7.9" text-anchor="start" fill="#111" stroke="#111" stroke-width="0.2" font-family='"Liberation Sans", sans-serif' textLength="32.90" lengthAdjust="spacingAndGlyphs" xml:space="preserve">V130LA10</text>
<text x="539.4" y="211.2" font-size="7.9" text-anchor="start" fill="#111" stroke="#111" stroke-width="0.2" font-family='"Liberation Sans", sans-serif' textLength="7.90" lengthAdjust="spacingAndGlyphs" xml:space="preserve">Z1</text>
<text x="568" y="237.4" font-size="6.4" text-anchor="start" fill="#111" stroke="#111" stroke-width="0.2" font-family='"Liberation Sans", sans-serif' textLength="14.40" lengthAdjust="spacingAndGlyphs" xml:space="preserve">NEUT</text>
<text x="451" y="248.4" font-size="7.9" text-anchor="start" fill="#111" stroke="#111" stroke-width="0.2" font-family='"Liberation Sans", sans-serif' textLength="7.40" lengthAdjust="spacingAndGlyphs" xml:space="preserve">K2</text>
<circle cx="446.3" cy="261.5" r="1.85" fill="none" stroke="#1a1a1a" stroke-width="1.1"/>
<circle cx="457.9" cy="261.5" r="1.85" fill="none" stroke="#1a1a1a" stroke-width="1.1"/>
<path d="M448.60,260.50 L458.40,256.60" fill="none" stroke="#1a1a1a" stroke-width="1.2"/>
<path d="M421.90,261.50 L444.45,261.50" fill="none" stroke="#1a1a1a" stroke-width="1.0"/>
<path d="M459.75,261.50 L474.90,261.50 L474.90,284.40 L459.75,284.40" fill="none" stroke="#1a1a1a" stroke-width="1.0"/>
<circle cx="474.9" cy="261.5" r="1.5" fill="#1a1a1a"/>
<path d="M421.90,284.40 L444.45,284.40" fill="none" stroke="#1a1a1a" stroke-width="1.0"/>
<circle cx="446.3" cy="284.4" r="1.85" fill="none" stroke="#1a1a1a" stroke-width="1.1"/>
<circle cx="457.9" cy="284.4" r="1.85" fill="none" stroke="#1a1a1a" stroke-width="1.1"/>
<path d="M448.60,283.40 L458.40,279.50" fill="none" stroke="#1a1a1a" stroke-width="1.2"/>
<path d="M452.4,259.5 L452.4,291.7" fill="none" stroke="#1a1a1a" stroke-width="1.1" stroke-dasharray="4.1,2.4"/>
<rect x="448.4" y="291.7" width="7.3" height="15.5" fill="none" stroke="#1a1a1a" stroke-width="1.1"/>
<text x="434.8" y="260.5" font-size="6.3" text-anchor="start" fill="#111" stroke="#111" stroke-width="0.12" font-family='"Liberation Sans", sans-serif' xml:space="preserve">3</text>
<text x="467.6" y="260.5" font-size="6.3" text-anchor="start" fill="#111" stroke="#111" stroke-width="0.12" font-family='"Liberation Sans", sans-serif' xml:space="preserve">4</text>
<text x="434.8" y="283" font-size="6.3" text-anchor="start" fill="#111" stroke="#111" stroke-width="0.12" font-family='"Liberation Sans", sans-serif' xml:space="preserve">6</text>
<text x="467.6" y="283" font-size="6.3" text-anchor="start" fill="#111" stroke="#111" stroke-width="0.12" font-family='"Liberation Sans", sans-serif' xml:space="preserve">5</text>
<path d="M406.60,299.30 L448.40,299.30" fill="none" stroke="#1a1a1a" stroke-width="1.0"/>
<path d="M455.70,299.30 L463.60,299.30 L463.60,314.50 L346.50,314.50" fill="none" stroke="#1a1a1a" stroke-width="1.0"/>
<text x="434.7" y="298" font-size="6" text-anchor="start" fill="#111" stroke="#111" stroke-width="0.1" font-family='"Liberation Sans", sans-serif' textLength="7.30" lengthAdjust="spacingAndGlyphs" xml:space="preserve">8+</text>
<text x="434.7" y="313.6" font-size="6" text-anchor="start" fill="#111" stroke="#111" stroke-width="0.1" font-family='"Liberation Sans", sans-serif' textLength="5.50" lengthAdjust="spacingAndGlyphs" xml:space="preserve">1-</text>
<circle cx="406.4" cy="284.4" r="1.5" fill="#1a1a1a"/>
<circle cx="406.4" cy="299.3" r="1.5" fill="#1a1a1a"/>
<path d="M474.90,261.25 L508.90,261.25" fill="none" stroke="#1a1a1a" stroke-width="1.0"/>
<rect x="508.9" y="258.6" width="23.3" height="5.8" fill="none" stroke="#1a1a1a" stroke-width="1.1"/>
<path d="M532.20,261.25 L588.50,261.25 L588.50,208.60" fill="none" stroke="#1a1a1a" stroke-width="1.0"/>
<path d="M513.25,268.25 L529.35,253.90 L533.00,253.90" fill="none" stroke="#1a1a1a" stroke-width="1.0"/>
<text x="520.6" y="255.8" font-size="7.5" text-anchor="start" fill="#111" stroke="#111" stroke-width="0.2" font-family='"Liberation Sans", sans-serif' textLength="5.00" lengthAdjust="spacingAndGlyphs" xml:space="preserve">∩</text>
<path d="M503.50,270.00 L503.50,277.00" fill="none" stroke="#1a1a1a" stroke-width="1.0"/>
<path d="M507.20,270.00 L507.20,277.00" fill="none" stroke="#1a1a1a" stroke-width="1.0"/>
<path d="M502.1,275 L503.5,277.5 L504.9,275 Z M505.8,272 L507.2,269.5 L508.6,272 Z" fill="#111"/>
<text x="515.6" y="239.6" font-size="7.9" text-anchor="start" fill="#111" stroke="#111" stroke-width="0.2" font-family='"Liberation Sans", sans-serif' textLength="12.40" lengthAdjust="spacingAndGlyphs" xml:space="preserve">TH2</text>
<text x="509.2" y="246.9" font-size="7.9" text-anchor="start" fill="#111" stroke="#111" stroke-width="0.2" font-family='"Liberation Sans", sans-serif' textLength="22.80" lengthAdjust="spacingAndGlyphs" xml:space="preserve">CL-110</text>
<circle cx="565.9" cy="261.25" r="1.5" fill="#1a1a1a"/>
<text x="571.9" y="259.5" font-size="6.4" text-anchor="start" fill="#111" stroke="#111" stroke-width="0.2" font-family='"Liberation Sans", sans-serif' textLength="7.00" lengthAdjust="spacingAndGlyphs" xml:space="preserve">LD</text>
<path d="M565.90,261.25 L565.90,272.60" fill="none" stroke="#1a1a1a" stroke-width="1.0"/>
<rect x="563.3" y="272.6" width="5.4" height="22.8" fill="none" stroke="#1a1a1a" stroke-width="1.1"/>
<path d="M565.90,295.40 L565.90,306.75 L604.00,306.75" fill="none" stroke="#1a1a1a" stroke-width="1.0"/>
<path d="M557.90,272.60 L573.60,291.90" fill="none" stroke="#1a1a1a" stroke-width="1.0"/>
<text x="555.0" y="278.8" font-size="7.8" text-anchor="start" fill="#111" stroke="#111" stroke-width="0.2" font-family='"Liberation Sans", sans-serif' transform="rotate(90 555.0 278.8)" textLength="5.00" lengthAdjust="spacingAndGlyphs" xml:space="preserve">U</text>
<text x="545.1" y="283.1" font-size="7.9" text-anchor="start" fill="#111" stroke="#111" stroke-width="0.2" font-family='"Liberation Sans", sans-serif' textLength="7.00" lengthAdjust="spacingAndGlyphs" xml:space="preserve">Z2</text>
<text x="518.5" y="292.4" font-size="7.9" text-anchor="start" fill="#111" stroke="#111" stroke-width="0.2" font-family='"Liberation Sans", sans-serif' textLength="32.90" lengthAdjust="spacingAndGlyphs" xml:space="preserve">V130LA10</text>
<path d="M574.00,297.60 L581.50,297.60" fill="none" stroke="#1a1a1a" stroke-width="1.0"/>
<path d="M574.00,300.90 L581.50,300.90" fill="none" stroke="#1a1a1a" stroke-width="1.0"/>
<path d="M573.8,297.6 L576.5,296.1 L576.5,299.1 Z M581.7,300.9 L579,299.4 L579,302.4 Z" fill="#111"/>
<text x="582.9" y="304.65" font-size="6.4" text-anchor="start" fill="#111" stroke="#111" stroke-width="0.2" font-family='"Liberation Sans", sans-serif' textLength="14.70" lengthAdjust="spacingAndGlyphs" xml:space="preserve">NEUT</text>
<text x="643" y="170.7" font-size="7.9" text-anchor="start" fill="#111" stroke="#111" stroke-width="0.2" font-family='"Liberation Sans", sans-serif' textLength="11.30" lengthAdjust="spacingAndGlyphs" xml:space="preserve">TS3</text>
<rect x="641.2" y="174.5" width="16.4" height="60.8" fill="none" stroke="#1a1a1a" stroke-width="1.1"/>
<path d="M641.20,182.10 L657.60,182.10" fill="none" stroke="#1a1a1a" stroke-width="1.0"/>
<path d="M641.20,189.70 L657.60,189.70" fill="none" stroke="#1a1a1a" stroke-width="1.0"/>
<path d="M641.20,197.30 L657.60,197.30" fill="none" stroke="#1a1a1a" stroke-width="1.0"/>
<path d="M641.20,204.90 L657.60,204.90" fill="none" stroke="#1a1a1a" stroke-width="1.0"/>
<path d="M641.20,212.50 L657.60,212.50" fill="none" stroke="#1a1a1a" stroke-width="1.0"/>
<path d="M641.20,220.10 L657.60,220.10" fill="none" stroke="#1a1a1a" stroke-width="1.0"/>
<path d="M641.20,227.70 L657.60,227.70" fill="none" stroke="#1a1a1a" stroke-width="1.0"/>
<circle cx="649.4000000000001" cy="178.3" r="2.95" fill="none" stroke="#1a1a1a" stroke-width="1.2"/>
<path d="M647.50,180.20 L651.30,176.40" fill="none" stroke="#1a1a1a" stroke-width="1.1"/>
<circle cx="649.4000000000001" cy="185.9" r="2.95" fill="none" stroke="#1a1a1a" stroke-width="1.2"/>
<path d="M647.50,187.80 L651.30,184.00" fill="none" stroke="#1a1a1a" stroke-width="1.1"/>
<circle cx="649.4000000000001" cy="193.5" r="2.95" fill="none" stroke="#1a1a1a" stroke-width="1.2"/>
<path d="M647.50,195.40 L651.30,191.60" fill="none" stroke="#1a1a1a" stroke-width="1.1"/>
<circle cx="649.4000000000001" cy="201.10000000000002" r="2.95" fill="none" stroke="#1a1a1a" stroke-width="1.2"/>
<path d="M647.50,203.00 L651.30,199.20" fill="none" stroke="#1a1a1a" stroke-width="1.1"/>
<circle cx="649.4000000000001" cy="208.70000000000002" r="2.95" fill="none" stroke="#1a1a1a" stroke-width="1.2"/>
<path d="M647.50,210.60 L651.30,206.80" fill="none" stroke="#1a1a1a" stroke-width="1.1"/>
<circle cx="649.4000000000001" cy="216.3" r="2.95" fill="none" stroke="#1a1a1a" stroke-width="1.2"/>
<path d="M647.50,218.20 L651.30,214.40" fill="none" stroke="#1a1a1a" stroke-width="1.1"/>
<circle cx="649.4000000000001" cy="223.9" r="2.95" fill="none" stroke="#1a1a1a" stroke-width="1.2"/>
<path d="M647.50,225.80 L651.30,222.00" fill="none" stroke="#1a1a1a" stroke-width="1.1"/>
<circle cx="649.4000000000001" cy="231.5" r="2.95" fill="none" stroke="#1a1a1a" stroke-width="1.2"/>
<path d="M647.50,233.40 L651.30,229.60" fill="none" stroke="#1a1a1a" stroke-width="1.1"/>
<path d="M604.00,147.40 L604.00,306.75" fill="none" stroke="#1a1a1a" stroke-width="1.0"/>
<path d="M604.00,178.10 L641.20,178.10" fill="none" stroke="#1a1a1a" stroke-width="1.0"/>
<circle cx="626.3" cy="178.1" r="1.5" fill="#1a1a1a"/>
<path d="M626.30,178.10 L626.30,185.90 L641.20,185.90" fill="none" stroke="#1a1a1a" stroke-width="1.0"/>
<path d="M604.00,193.30 L641.20,193.30" fill="none" stroke="#1a1a1a" stroke-width="1.0"/>
<circle cx="604.0" cy="193.3" r="1.5" fill="#1a1a1a"/>
<path d="M604.00,200.80 L641.20,200.80" fill="none" stroke="#1a1a1a" stroke-width="1.0"/>
<circle cx="604.0" cy="200.8" r="1.5" fill="#1a1a1a"/>
<path d="M588.50,208.60 L641.20,208.60" fill="none" stroke="#1a1a1a" stroke-width="1.0"/>
<circle cx="626.3" cy="208.6" r="1.5" fill="#1a1a1a"/>
<path d="M626.30,208.60 L626.30,216.20 L641.20,216.20" fill="none" stroke="#1a1a1a" stroke-width="1.0"/>
<path d="M604.00,223.60 L641.20,223.60" fill="none" stroke="#1a1a1a" stroke-width="1.0"/>
<circle cx="604.0" cy="223.6" r="1.5" fill="#1a1a1a"/>
<path d="M604.00,231.10 L641.20,231.10" fill="none" stroke="#1a1a1a" stroke-width="1.0"/>
<circle cx="604.0" cy="231.1" r="1.5" fill="#1a1a1a"/>
<circle cx="604.0" cy="238.6" r="1.5" fill="#1a1a1a"/>
<text x="632" y="177.3" font-size="6.3" text-anchor="start" fill="#111" stroke="#111" stroke-width="0.12" font-family='"Liberation Sans", sans-serif' xml:space="preserve">1</text>
<text x="632" y="184.7" font-size="6.3" text-anchor="start" fill="#111" stroke="#111" stroke-width="0.12" font-family='"Liberation Sans", sans-serif' xml:space="preserve">2</text>
<text x="632" y="192" font-size="6.3" text-anchor="start" fill="#111" stroke="#111" stroke-width="0.12" font-family='"Liberation Sans", sans-serif' xml:space="preserve">3</text>
<text x="632" y="199.5" font-size="6.3" text-anchor="start" fill="#111" stroke="#111" stroke-width="0.12" font-family='"Liberation Sans", sans-serif' xml:space="preserve">4</text>
<text x="632" y="207" font-size="6.3" text-anchor="start" fill="#111" stroke="#111" stroke-width="0.12" font-family='"Liberation Sans", sans-serif' xml:space="preserve">4</text>
<text x="632" y="214.3" font-size="6.3" text-anchor="start" fill="#111" stroke="#111" stroke-width="0.12" font-family='"Liberation Sans", sans-serif' xml:space="preserve">3</text>
<text x="632" y="222.2" font-size="6.3" text-anchor="start" fill="#111" stroke="#111" stroke-width="0.12" font-family='"Liberation Sans", sans-serif' xml:space="preserve">2</text>
<text x="632" y="230" font-size="6.3" text-anchor="start" fill="#111" stroke="#111" stroke-width="0.12" font-family='"Liberation Sans", sans-serif' xml:space="preserve">1</text>
<text x="659" y="181.60000000000002" font-size="7.9" text-anchor="start" fill="#111" stroke="#111" stroke-width="0.2" font-family='"Liberation Sans", sans-serif' textLength="8.50" lengthAdjust="spacingAndGlyphs" xml:space="preserve">LS</text>
<text x="659" y="189.20000000000002" font-size="7.9" text-anchor="start" fill="#111" stroke="#111" stroke-width="0.2" font-family='"Liberation Sans", sans-serif' textLength="8.50" lengthAdjust="spacingAndGlyphs" xml:space="preserve">LS</text>
<text x="659" y="196.8" font-size="7.9" text-anchor="start" fill="#111" stroke="#111" stroke-width="0.2" font-family='"Liberation Sans", sans-serif' textLength="5.50" lengthAdjust="spacingAndGlyphs" xml:space="preserve">N</text>
<text x="659" y="204.4" font-size="7.9" text-anchor="start" fill="#111" stroke="#111" stroke-width="0.2" font-family='"Liberation Sans", sans-serif' textLength="5.50" lengthAdjust="spacingAndGlyphs" xml:space="preserve">N</text>
<text x="659" y="212.0" font-size="7.9" text-anchor="start" fill="#111" stroke="#111" stroke-width="0.2" font-family='"Liberation Sans", sans-serif' textLength="8.50" lengthAdjust="spacingAndGlyphs" xml:space="preserve">LD</text>
<text x="659" y="219.60000000000002" font-size="7.9" text-anchor="start" fill="#111" stroke="#111" stroke-width="0.2" font-family='"Liberation Sans", sans-serif' textLength="8.50" lengthAdjust="spacingAndGlyphs" xml:space="preserve">LD</text>
<text x="659" y="227.20000000000002" font-size="7.9" text-anchor="start" fill="#111" stroke="#111" stroke-width="0.2" font-family='"Liberation Sans", sans-serif' textLength="5.50" lengthAdjust="spacingAndGlyphs" xml:space="preserve">N</text>
<text x="659" y="234.8" font-size="7.9" text-anchor="start" fill="#111" stroke="#111" stroke-width="0.2" font-family='"Liberation Sans", sans-serif' textLength="5.50" lengthAdjust="spacingAndGlyphs" xml:space="preserve">N</text>
<text x="644.4" y="244" font-size="7.9" text-anchor="start" fill="#111" stroke="#111" stroke-width="0.2" font-family='"Liberation Sans", sans-serif' textLength="11.60" lengthAdjust="spacingAndGlyphs" xml:space="preserve">TS4</text>
<text x="634.6" y="250" font-size="7.9" text-anchor="start" fill="#111" stroke="#111" stroke-width="0.2" font-family='"Liberation Sans", sans-serif' textLength="35.40" lengthAdjust="spacingAndGlyphs" xml:space="preserve">AC outputs</text>
<path d="M391.40,284.30 L406.40,284.30" fill="none" stroke="#1a1a1a" stroke-width="1.0"/>
<path d="M391.40,284.30 L391.40,314.50" fill="none" stroke="#1a1a1a" stroke-width="1.0"/>
<path d="M387.4,303.8 L395.4,303.8 L391.4,295.6 Z" fill="none" stroke="#1a1a1a" stroke-width="1.0"/>
<path d="M387.40,295.60 L395.40,295.60" fill="none" stroke="#1a1a1a" stroke-width="1.3"/>
<circle cx="391.4" cy="314.5" r="1.5" fill="#1a1a1a"/>
<circle cx="376.4" cy="314.5" r="1.5" fill="#1a1a1a"/>
<text x="372.6" y="298" font-size="7.9" text-anchor="start" fill="#111" stroke="#111" stroke-width="0.2" font-family='"Liberation Sans", sans-serif' textLength="8.70" lengthAdjust="spacingAndGlyphs" xml:space="preserve">D3</text>
<text x="360" y="306.8" font-size="7.9" text-anchor="start" fill="#111" stroke="#111" stroke-width="0.2" font-family='"Liberation Sans", sans-serif' textLength="25.10" lengthAdjust="spacingAndGlyphs" xml:space="preserve">1N4148</text>
<path d="M376.40,314.50 L376.40,375.50 L201.65,375.50 L201.65,435.60 L219.40,435.60" fill="none" stroke="#1a1a1a" stroke-width="1.0"/>
<path d="M406.60,383.10 L406.60,132.40" fill="none" stroke="#1a1a1a" stroke-width="1.0"/>
<path d="M300.75,383.10 L458.80,383.10" fill="none" stroke="#1a1a1a" stroke-width="1.0"/>
<circle cx="399" cy="383.1" r="1.5" fill="#1a1a1a"/>
<circle cx="406.6" cy="383.1" r="1.5" fill="#1a1a1a"/>
<text x="414.5" y="381" font-size="6.4" text-anchor="start" fill="#111" stroke="#111" stroke-width="0.2" font-family='"Liberation Sans", sans-serif' textLength="8.00" lengthAdjust="spacingAndGlyphs" xml:space="preserve">+6</text>
<path d="M399.00,383.10 L399.00,394.60" fill="none" stroke="#1a1a1a" stroke-width="1.0"/>
<path d="M399.00,394.60 L400.90,395.67 L397.10,397.80 L400.90,399.93 L397.10,402.07 L400.90,404.20 L397.10,406.33 L399.00,407.40" fill="none" stroke="#1a1a1a" stroke-width="1.1" stroke-linejoin="miter"/>
<path d="M399.00,407.40 L399.00,420.40" fill="none" stroke="#1a1a1a" stroke-width="1.0"/>
<circle cx="399" cy="420.4" r="1.5" fill="#1a1a1a"/>
<text x="407.1" y="400" font-size="7.9" text-anchor="start" fill="#111" stroke="#111" stroke-width="0.2" font-family='"Liberation Sans", sans-serif' textLength="8.30" lengthAdjust="spacingAndGlyphs" xml:space="preserve">R5</text>
<text x="405.2" y="407.6" font-size="7.9" text-anchor="start" fill="#111" stroke="#111" stroke-width="0.2" font-family='"Liberation Sans", sans-serif' textLength="11.50" lengthAdjust="spacingAndGlyphs" xml:space="preserve">10k</text>
<path d="M270.25,420.40 L368.00,420.40" fill="none" stroke="#1a1a1a" stroke-width="1.0"/>
<path d="M368.00,420.40 L368.97,418.80 L370.90,422.00 L372.83,418.80 L374.77,422.00 L376.70,418.80 L378.63,422.00 L379.60,420.40" fill="none" stroke="#1a1a1a" stroke-width="1.1" stroke-linejoin="miter"/>
<path d="M379.60,420.40 L467.40,420.40 L467.40,389.80" fill="none" stroke="#1a1a1a" stroke-width="1.0"/>
<text x="368.7" y="407.6" font-size="7.9" text-anchor="start" fill="#111" stroke="#111" stroke-width="0.2" font-family='"Liberation Sans", sans-serif' textLength="8.30" lengthAdjust="spacingAndGlyphs" xml:space="preserve">R4</text>
<text x="369.3" y="415" font-size="7.9" text-anchor="start" fill="#111" stroke="#111" stroke-width="0.2" font-family='"Liberation Sans", sans-serif' textLength="10.90" lengthAdjust="spacingAndGlyphs" xml:space="preserve">10k</text>
<text x="329.4" y="419.1" font-size="6.4" text-anchor="start" fill="#111" stroke="#111" stroke-width="0.2" font-family='"Liberation Sans", sans-serif' textLength="21.10" lengthAdjust="spacingAndGlyphs" xml:space="preserve">LEDDRV</text>
<text x="431.9" y="419" font-size="6.4" text-anchor="start" fill="#111" stroke="#111" stroke-width="0.2" font-family='"Liberation Sans", sans-serif' textLength="13.50" lengthAdjust="spacingAndGlyphs" xml:space="preserve">LEDB</text>
<path d="M458.80,382.90 L461.75,388.50" fill="none" stroke="#1a1a1a" stroke-width="1.0"/>
<path d="M462.3,389.2 L458.6,386.4 L462.6,385.2 Z" fill="#111"/>
<path d="M459.70,389.90 L475.10,389.90" fill="none" stroke="#1a1a1a" stroke-width="1.8"/>
<path d="M472.90,388.50 L475.45,382.90 L528.00,382.90" fill="none" stroke="#1a1a1a" stroke-width="1.0"/>
<text x="461.75" y="370.6" font-size="7.9" text-anchor="start" fill="#111" stroke="#111" stroke-width="0.2" font-family='"Liberation Sans", sans-serif' textLength="9.25" lengthAdjust="spacingAndGlyphs" xml:space="preserve">Q1</text>
<text x="456.25" y="379.6" font-size="7.9" text-anchor="start" fill="#111" stroke="#111" stroke-width="0.2" font-family='"Liberation Sans", sans-serif' textLength="24.95" lengthAdjust="spacingAndGlyphs" xml:space="preserve">2N3906</text>
<path d="M528.00,383.10 L529.88,381.50 L533.62,384.70 L537.38,381.50 L541.12,384.70 L544.88,381.50 L548.62,384.70 L550.50,383.10" fill="none" stroke="#1a1a1a" stroke-width="1.1" stroke-linejoin="miter"/>
<path d="M550.50,383.10 L641.00,383.10" fill="none" stroke="#1a1a1a" stroke-width="1.0"/>
<text x="535.2" y="371.9" font-size="7.9" text-anchor="start" fill="#111" stroke="#111" stroke-width="0.2" font-family='"Liberation Sans", sans-serif' textLength="9.70" lengthAdjust="spacingAndGlyphs" xml:space="preserve">R2</text>
<text x="538" y="378.6" font-size="7.9" text-anchor="start" fill="#111" stroke="#111" stroke-width="0.2" font-family='"Liberation Sans", sans-serif' xml:space="preserve">0</text>
<text x="516.75" y="393.25" font-size="7.9" text-anchor="start" fill="#111" stroke="#111" stroke-width="0.2" font-family='"Liberation Sans", sans-serif' textLength="45.45" lengthAdjust="spacingAndGlyphs" xml:space="preserve">Use R for LED</text>
<text x="591" y="380.9" font-size="6.4" text-anchor="start" fill="#111" stroke="#111" stroke-width="0.2" font-family='"Liberation Sans", sans-serif' textLength="10.10" lengthAdjust="spacingAndGlyphs" xml:space="preserve">PL+</text>
<text x="642.3" y="377.5" font-size="7.9" text-anchor="start" fill="#111" stroke="#111" stroke-width="0.2" font-family='"Liberation Sans", sans-serif' textLength="11.70" lengthAdjust="spacingAndGlyphs" xml:space="preserve">TS2</text>
<rect x="641" y="379.3" width="15.3" height="15.1" fill="none" stroke="#1a1a1a" stroke-width="1.1"/>
<path d="M641.00,386.85 L656.30,386.85" fill="none" stroke="#1a1a1a" stroke-width="1.0"/>
<circle cx="648.65" cy="383.075" r="2.95" fill="none" stroke="#1a1a1a" stroke-width="1.2"/>
<path d="M646.75,384.97 L650.55,381.18" fill="none" stroke="#1a1a1a" stroke-width="1.1"/>
<circle cx="648.65" cy="390.625" r="2.95" fill="none" stroke="#1a1a1a" stroke-width="1.2"/>
<path d="M646.75,392.52 L650.55,388.73" fill="none" stroke="#1a1a1a" stroke-width="1.1"/>
<text x="631.5" y="382" font-size="6.3" text-anchor="start" fill="#111" stroke="#111" stroke-width="0.12" font-family='"Liberation Sans", sans-serif' xml:space="preserve">1</text>
<text x="631.5" y="389.2" font-size="6.3" text-anchor="start" fill="#111" stroke="#111" stroke-width="0.12" font-family='"Liberation Sans", sans-serif' xml:space="preserve">2</text>
<path d="M641.00,390.55 L626.60,390.55 L626.60,398.20" fill="none" stroke="#1a1a1a" stroke-width="1.0"/>
<path d="M622.40,398.20 L630.80,398.20 L626.60,402.40 Z" fill="none" stroke="#1a1a1a" stroke-width="1.0"/>
<text x="659" y="385.4" font-size="7.9" text-anchor="start" fill="#111" stroke="#111" stroke-width="0.2" font-family='"Liberation Sans", sans-serif' textLength="12.60" lengthAdjust="spacingAndGlyphs" xml:space="preserve">PL+</text>
<text x="659" y="393.25" font-size="7.9" text-anchor="start" fill="#111" stroke="#111" stroke-width="0.2" font-family='"Liberation Sans", sans-serif' textLength="11.50" lengthAdjust="spacingAndGlyphs" xml:space="preserve">PL-</text>
<text x="636.5" y="405" font-size="7.9" text-anchor="start" fill="#111" stroke="#111" stroke-width="0.2" font-family='"Liberation Sans", sans-serif' textLength="29.90" lengthAdjust="spacingAndGlyphs" xml:space="preserve">Pilot light</text>
<text x="241.9" y="402.6" font-size="7.9" text-anchor="start" fill="#111" stroke="#111" stroke-width="0.2" font-family='"Liberation Sans", sans-serif' textLength="8.20" lengthAdjust="spacingAndGlyphs" xml:space="preserve">U1</text>
<text x="232.6" y="410.85" font-size="7.9" text-anchor="start" fill="#111" stroke="#111" stroke-width="0.2" font-family='"Liberation Sans", sans-serif' textLength="28.90" lengthAdjust="spacingAndGlyphs" xml:space="preserve">TLC555P</text>
<rect x="224.5" y="413.1" width="45.75" height="60.3" fill="none" stroke="#1a1a1a" stroke-width="1.5"/>
<path d="M171.40,390.50 L285.30,390.50 L285.30,451.00" fill="none" stroke="#1a1a1a" stroke-width="1.0"/>
<path d="M285.20,466.00 L285.20,483.30" fill="none" stroke="#1a1a1a" stroke-width="1.0"/>
<path d="M285.20,487.85 L285.20,503.60" fill="none" stroke="#1a1a1a" stroke-width="1.0"/>
<path d="M281.00,503.60 L289.40,503.60 L285.20,507.80 Z" fill="none" stroke="#1a1a1a" stroke-width="1.0"/>
<path d="M171.60,390.50 L171.60,458.25" fill="none" stroke="#1a1a1a" stroke-width="1.0"/>
<circle cx="171.6" cy="420.5" r="1.5" fill="#1a1a1a"/>
<path d="M171.60,420.50 L224.50,420.50" fill="none" stroke="#1a1a1a" stroke-width="1.0"/>
<text x="181" y="419.25" font-size="6.4" text-anchor="start" fill="#111" stroke="#111" stroke-width="0.2" font-family='"Liberation Sans", sans-serif' textLength="17.15" lengthAdjust="spacingAndGlyphs" xml:space="preserve">LEDTR</text>
<rect x="166.95" y="458.25" width="9.6" height="3.2" fill="none" stroke="#1a1a1a" stroke-width="1.0"/>
<rect x="166.95" y="463.55" width="9.6" height="2.3" fill="#1a1a1a"/>
<text x="167.15" y="456.05" font-size="4" text-anchor="start" fill="#111" stroke="#111" stroke-width="0.2" font-family='"Liberation Sans", sans-serif' xml:space="preserve">+</text>
<path d="M171.75,465.80 L171.75,481.50" fill="none" stroke="#1a1a1a" stroke-width="1.0"/>
<path d="M167.55,481.50 L175.95,481.50 L171.75,485.70 Z" fill="none" stroke="#1a1a1a" stroke-width="1.0"/>
<text x="152.25" y="462.75" font-size="7.9" text-anchor="start" fill="#111" stroke="#111" stroke-width="0.2" font-family='"Liberation Sans", sans-serif' textLength="7.95" lengthAdjust="spacingAndGlyphs" xml:space="preserve">C2</text>
<text x="126" y="472.5" font-size="7.9" text-anchor="start" fill="#111" stroke="#111" stroke-width="0.2" font-family='"Liberation Sans", sans-serif' textLength="36.75" lengthAdjust="spacingAndGlyphs" xml:space="preserve">1uF 25V Ta</text>
<path d="M224.5,433.25 L221.75,433.25 A2.35,2.35 0 0 0 221.75,437.95 L224.5,437.95" fill="none" stroke="#1a1a1a" stroke-width="1"/>
<path d="M224.50,451.20 L201.75,451.20 L201.75,459.90" fill="none" stroke="#1a1a1a" stroke-width="1.0"/>
<rect x="195.55" y="459.9" width="12.4" height="1.45" fill="#1a1a1a"/>
<rect x="195.55" y="463.0" width="12.4" height="1.45" fill="#1a1a1a"/>
<path d="M201.75,464.45 L201.75,481.50" fill="none" stroke="#1a1a1a" stroke-width="1.0"/>
<path d="M197.55,481.50 L205.95,481.50 L201.75,485.70 Z" fill="none" stroke="#1a1a1a" stroke-width="1.0"/>
<text x="181.8" y="462.75" font-size="7.9" text-anchor="start" fill="#111" stroke="#111" stroke-width="0.2" font-family='"Liberation Sans", sans-serif' textLength="7.95" lengthAdjust="spacingAndGlyphs" xml:space="preserve">C3</text>
<text x="178.5" y="472.5" font-size="7.9" text-anchor="start" fill="#111" stroke="#111" stroke-width="0.2" font-family='"Liberation Sans", sans-serif' textLength="19.50" lengthAdjust="spacingAndGlyphs" xml:space="preserve">100nF</text>
<path d="M224.50,466.50 L217.20,466.50 L217.20,473.25" fill="none" stroke="#1a1a1a" stroke-width="1.0"/>
<path d="M213.00,473.25 L221.40,473.25 L217.20,477.45 Z" fill="none" stroke="#1a1a1a" stroke-width="1.0"/>
<text x="231.75" y="424.15" font-size="7.9" text-anchor="start" fill="#111" stroke="#111" stroke-width="0.2" font-family='"Liberation Sans", sans-serif' xml:space="preserve">TR</text>
<text x="231.75" y="438.3" font-size="7.9" text-anchor="start" fill="#111" stroke="#111" stroke-width="0.2" font-family='"Liberation Sans", sans-serif' xml:space="preserve">R</text>
<text x="231.75" y="453.5" font-size="7.9" text-anchor="start" fill="#111" stroke="#111" stroke-width="0.2" font-family='"Liberation Sans", sans-serif' xml:space="preserve">CV</text>
<text x="231.75" y="468.75" font-size="7.9" text-anchor="start" fill="#111" stroke="#111" stroke-width="0.2" font-family='"Liberation Sans", sans-serif' xml:space="preserve">GND</text>
<text x="258.9" y="424.15" font-size="7.9" text-anchor="start" fill="#111" stroke="#111" stroke-width="0.2" font-family='"Liberation Sans", sans-serif' textLength="4.80" lengthAdjust="spacingAndGlyphs" xml:space="preserve">Q</text>
<text x="252.75" y="438.3" font-size="7.9" text-anchor="start" fill="#111" stroke="#111" stroke-width="0.2" font-family='"Liberation Sans", sans-serif' textLength="10.50" lengthAdjust="spacingAndGlyphs" xml:space="preserve">DIS</text>
<text x="251.5" y="453.5" font-size="7.9" text-anchor="start" fill="#111" stroke="#111" stroke-width="0.2" font-family='"Liberation Sans", sans-serif' textLength="11.70" lengthAdjust="spacingAndGlyphs" xml:space="preserve">THR</text>
<text x="255" y="468.75" font-size="7.9" text-anchor="start" fill="#111" stroke="#111" stroke-width="0.2" font-family='"Liberation Sans", sans-serif' textLength="7.75" lengthAdjust="spacingAndGlyphs" xml:space="preserve">V+</text>
<text x="221.1" y="420.2" font-size="6.6" text-anchor="start" fill="#111" stroke="#111" stroke-width="0.1" font-family='"Liberation Sans", sans-serif' xml:space="preserve">2</text>
<text x="221.1" y="450.2" font-size="6.6" text-anchor="start" fill="#111" stroke="#111" stroke-width="0.1" font-family='"Liberation Sans", sans-serif' xml:space="preserve">5</text>
<text x="221.1" y="465.4" font-size="6.6" text-anchor="start" fill="#111" stroke="#111" stroke-width="0.1" font-family='"Liberation Sans", sans-serif' xml:space="preserve">1</text>
<text x="215.4" y="434.8" font-size="6.6" text-anchor="start" fill="#111" stroke="#111" stroke-width="0.1" font-family='"Liberation Sans", sans-serif' xml:space="preserve">4</text>
<text x="271.1" y="420.2" font-size="6.6" text-anchor="start" fill="#111" stroke="#111" stroke-width="0.1" font-family='"Liberation Sans", sans-serif' xml:space="preserve">3</text>
<text x="271.1" y="434.8" font-size="6.6" text-anchor="start" fill="#111" stroke="#111" stroke-width="0.1" font-family='"Liberation Sans", sans-serif' xml:space="preserve">7</text>
<text x="271.1" y="450.2" font-size="6.6" text-anchor="start" fill="#111" stroke="#111" stroke-width="0.1" font-family='"Liberation Sans", sans-serif' xml:space="preserve">6</text>
<text x="271.1" y="465.4" font-size="6.6" text-anchor="start" fill="#111" stroke="#111" stroke-width="0.1" font-family='"Liberation Sans", sans-serif' xml:space="preserve">8</text>
<path d="M270.25,436.00 L338.00,436.00 L338.00,466.00" fill="none" stroke="#1a1a1a" stroke-width="1.0"/>
<path d="M270.25,451.00 L314.40,451.00" fill="none" stroke="#1a1a1a" stroke-width="1.0"/>
<path d="M314.40,451.00 L315.32,449.40 L317.15,452.60 L318.98,449.40 L320.82,452.60 L322.65,449.40 L324.48,452.60 L325.40,451.00" fill="none" stroke="#1a1a1a" stroke-width="1.1" stroke-linejoin="miter"/>
<path d="M325.40,451.00 L338.00,451.00" fill="none" stroke="#1a1a1a" stroke-width="1.0"/>
<path d="M270.25,466.00 L312.70,466.00" fill="none" stroke="#1a1a1a" stroke-width="1.0"/>
<path d="M312.70,466.00 L313.62,464.40 L315.45,467.60 L317.28,464.40 L319.12,467.60 L320.95,464.40 L322.78,467.60 L323.70,466.00" fill="none" stroke="#1a1a1a" stroke-width="1.1" stroke-linejoin="miter"/>
<path d="M323.70,466.00 L338.00,466.00" fill="none" stroke="#1a1a1a" stroke-width="1.0"/>
<path d="M300.60,383.10 L300.60,466.00" fill="none" stroke="#1a1a1a" stroke-width="1.0"/>
<circle cx="285.3" cy="451.0" r="1.5" fill="#1a1a1a"/>
<circle cx="285.3" cy="466" r="1.5" fill="#1a1a1a"/>
<circle cx="300.6" cy="466" r="1.5" fill="#1a1a1a"/>
<circle cx="338" cy="451.0" r="1.5" fill="#1a1a1a"/>
<text x="315.3" y="445.9" font-size="7.9" text-anchor="start" fill="#111" stroke="#111" stroke-width="0.2" font-family='"Liberation Sans", sans-serif' textLength="8.10" lengthAdjust="spacingAndGlyphs" xml:space="preserve">R1</text>
<text x="311.9" y="461.4" font-size="7.9" text-anchor="start" fill="#111" stroke="#111" stroke-width="0.2" font-family='"Liberation Sans", sans-serif' textLength="16.10" lengthAdjust="spacingAndGlyphs" xml:space="preserve">470k</text>
<text x="314.3" y="475.5" font-size="7.9" text-anchor="start" fill="#111" stroke="#111" stroke-width="0.2" font-family='"Liberation Sans", sans-serif' textLength="8.10" lengthAdjust="spacingAndGlyphs" xml:space="preserve">R3</text>
<text x="311.9" y="484.5" font-size="7.9" text-anchor="start" fill="#111" stroke="#111" stroke-width="0.2" font-family='"Liberation Sans", sans-serif' textLength="16.10" lengthAdjust="spacingAndGlyphs" xml:space="preserve">200k</text>
<rect x="279.0" y="483.3" width="12.4" height="1.45" fill="#1a1a1a"/>
<rect x="279.0" y="486.40000000000003" width="12.4" height="1.45" fill="#1a1a1a"/>
<text x="260" y="488.5" font-size="7.9" text-anchor="start" fill="#111" stroke="#111" stroke-width="0.2" font-family='"Liberation Sans", sans-serif' textLength="7.00" lengthAdjust="spacingAndGlyphs" xml:space="preserve">C1</text>
<text x="257.6" y="496.5" font-size="7.9" text-anchor="start" fill="#111" stroke="#111" stroke-width="0.2" font-family='"Liberation Sans", sans-serif' textLength="20.00" lengthAdjust="spacingAndGlyphs" xml:space="preserve">100nF</text>
<text x="31.25" y="330.2" font-size="7.9" text-anchor="start" fill="#111" stroke="#111" stroke-width="0.2" font-family='"Liberation Sans", sans-serif' textLength="78.75" lengthAdjust="spacingAndGlyphs" xml:space="preserve">Approximate time delay:</text>
<text x="31.25" y="341.3" font-size="7.9" text-anchor="start" fill="#111" stroke="#111" stroke-width="0.2" font-family='"Liberation Sans", sans-serif' textLength="76.85" lengthAdjust="spacingAndGlyphs" xml:space="preserve">R11 = 1M : 15 Seconds</text>
<text x="31.25" y="348.5" font-size="7.9" text-anchor="start" fill="#111" stroke="#111" stroke-width="0.2" font-family='"Liberation Sans", sans-serif' textLength="76.85" lengthAdjust="spacingAndGlyphs" xml:space="preserve">R11 = 2M : 30 Seconds</text>
<text x="31.25" y="356.2" font-size="7.9" text-anchor="start" fill="#111" stroke="#111" stroke-width="0.2" font-family='"Liberation Sans", sans-serif' textLength="83.75" lengthAdjust="spacingAndGlyphs" xml:space="preserve">R11 = 3.3M : 45 Seconds</text>
<text x="31.25" y="363.5" font-size="7.9" text-anchor="start" fill="#111" stroke="#111" stroke-width="0.2" font-family='"Liberation Sans", sans-serif' textLength="83.75" lengthAdjust="spacingAndGlyphs" xml:space="preserve">R11 = 4.7M : 60 Seconds</text>
<text x="30.7" y="382.6" font-size="7.9" text-anchor="start" fill="#111" stroke="#111" stroke-width="0.2" font-family='"Liberation Sans", sans-serif' textLength="127.30" lengthAdjust="spacingAndGlyphs" xml:space="preserve">Note: C2 and C7 MUST be low-leakage</text>
<text x="30.7" y="392" font-size="7.9" text-anchor="start" fill="#111" stroke="#111" stroke-width="0.2" font-family='"Liberation Sans", sans-serif' textLength="97.30" lengthAdjust="spacingAndGlyphs" xml:space="preserve">Tantalum caps recommended</text>
<path d="M490.35,541.8 L490.35,435.35 L793.5,435.35 M490.35,473.85 L793.5,473.85 M490.35,496.4 L793.5,496.4 M490.35,526.6 L793.5,526.6 M752.2,496.4 L752.2,526.6 M702.3,526.6 L702.3,541.8" fill="none" stroke="#777" stroke-width="1.1"/>
<text x="547" y="453.1" font-size="16.3" text-anchor="start" fill="#111" font-family='"Liberation Sans", sans-serif' textLength="145.70" lengthAdjust="spacingAndGlyphs" xml:space="preserve">AC Power Delay PCB</text>
<text x="587.2" y="466.8" font-size="10.2" text-anchor="start" fill="#111" font-family='"Liberation Sans", sans-serif' textLength="84.00" lengthAdjust="spacingAndGlyphs" xml:space="preserve">www.pmillett.com</text>
<text x="494" y="486" font-size="10.75" text-anchor="start" fill="#444" font-family='"Liberation Mono", monospace' transform="translate(0 486) scale(1 1.25) translate(0 -486)" textLength="83.40" lengthAdjust="spacingAndGlyphs" xml:space="preserve">TITLE:  ACDLY</text>
<text x="494" y="508.7" font-size="10.75" text-anchor="start" fill="#444" font-family='"Liberation Mono", monospace' transform="translate(0 508.7) scale(1 1.25) translate(0 -508.7)" textLength="105.00" lengthAdjust="spacingAndGlyphs" xml:space="preserve">Document Number:</text>
<text x="755.3" y="507.9" font-size="10.75" text-anchor="start" fill="#444" font-family='"Liberation Mono", monospace' transform="translate(0 507.9) scale(1 1.25) translate(0 -507.9)" textLength="23.90" lengthAdjust="spacingAndGlyphs" xml:space="preserve">REV:</text>
<text x="494" y="538.7" font-size="10.75" text-anchor="start" fill="#444" font-family='"Liberation Mono", monospace' transform="translate(0 538.7) scale(1 1.25) translate(0 -538.7)" textLength="141.80" lengthAdjust="spacingAndGlyphs" xml:space="preserve">Date: 4/1/2016 4:05 PM</text>
<text x="706" y="538.7" font-size="10.75" text-anchor="start" fill="#444" font-family='"Liberation Mono", monospace' transform="translate(0 538.7) scale(1 1.25) translate(0 -538.7)" textLength="61.00" lengthAdjust="spacingAndGlyphs" xml:space="preserve">Sheet: 1/1</text>
</svg></body></html>
